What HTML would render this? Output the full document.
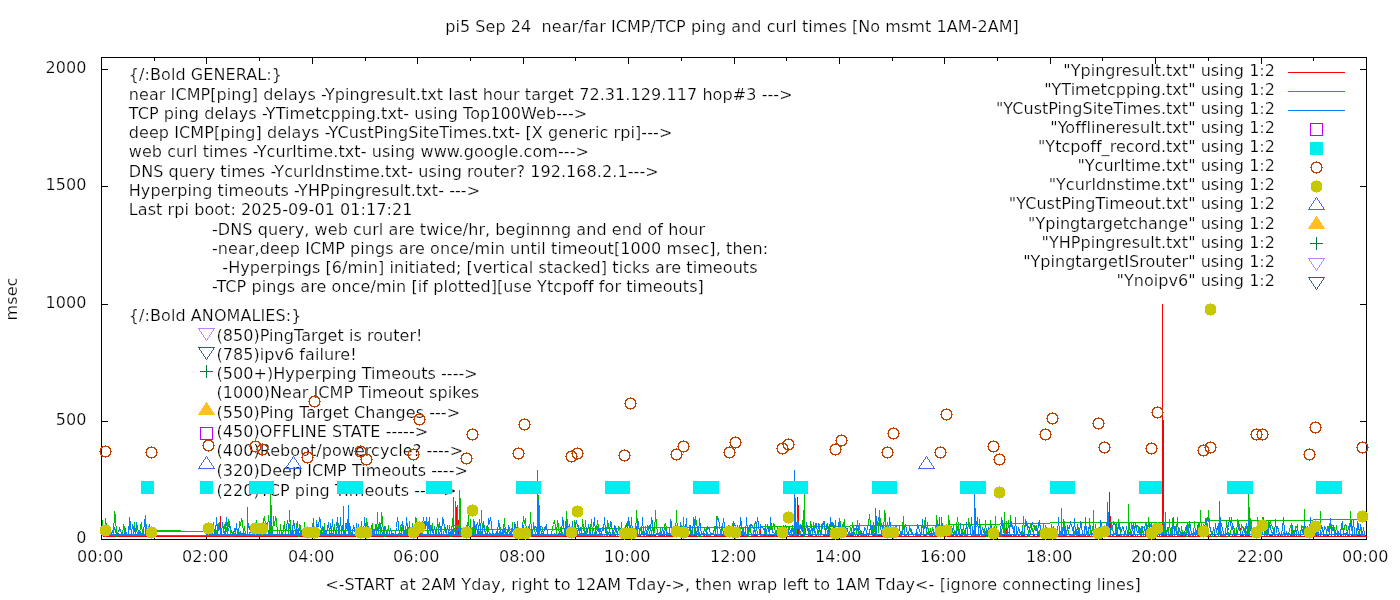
<!DOCTYPE html>
<html><head><meta charset="utf-8"><title>pi5 ping and curl times</title>
<style>html,body{margin:0;padding:0;background:#fff;overflow:hidden}svg{display:block}text{stroke:#fff;stroke-width:.24px}</style></head>
<body>
<svg width="1400" height="600" viewBox="0 0 1400 600" font-family="DejaVu Sans, Liberation Sans, sans-serif" font-size="16" letter-spacing="0.08" fill="#000">
<rect width="1400" height="600" fill="#fff"/>
<defs><g id="oc" shape-rendering="crispEdges"><path fill="#c04000" d="M-3.5,-5.5h7v1h-7zM-4.5,-4.5h2v1h-2zM2.5,-4.5h2v1h-2zM-5.5,-3.5h2v1h-2zM3.5,-3.5h2v1h-2zM-3.5,4.5h7v1h-7zM-4.5,3.5h2v1h-2zM2.5,3.5h2v1h-2zM-5.5,2.5h2v1h-2zM3.5,2.5h2v1h-2zM-6.5,-0.5h2v1h-2zM4.5,-0.5h2v1h-2zM-5.5,-2.5h1v1h-1zM4.5,-2.5h1v1h-1zM-5.5,-1.5h1v1h-1zM4.5,-1.5h1v1h-1zM-5.5,0.5h1v1h-1zM4.5,0.5h1v1h-1zM-5.5,1.5h1v1h-1zM4.5,1.5h1v1h-1zM-0.5,-6.5h1v1h-1zM-0.5,5.5h1v1h-1z"/></g><g id="fc" shape-rendering="crispEdges" fill="#c8c800"><path d="M-3.5,-5.5h7v1h1v1h1v7h-1v1h-1v1h-7v-1h-1v-1h-1v-7h1v-1h1z"/><rect x="-0.5" y="-6.5" width="1" height="13"/></g></defs>
<text x="128.75" y="80" text-anchor="start" xml:space="preserve" >{/:Bold GENERAL:}</text>
<text x="128.75" y="100" text-anchor="start" xml:space="preserve" >near ICMP[ping] delays -Ypingresult.txt last hour target 72.31.129.117 hop#3 ---&gt;</text>
<text x="128.75" y="119" text-anchor="start" xml:space="preserve" >TCP ping delays -YTimetcpping.txt- using Top100Web---&gt;</text>
<text x="128.75" y="138" text-anchor="start" xml:space="preserve" >deep ICMP[ping] delays -YCustPingSiteTimes.txt- [X generic rpi]---&gt;</text>
<text x="128.75" y="157" text-anchor="start" xml:space="preserve" >web curl times -Ycurltime.txt- using www.google.com---&gt;</text>
<text x="128.75" y="177" text-anchor="start" xml:space="preserve" >DNS query times -Ycurldnstime.txt- using router? 192.168.2.1---&gt;</text>
<text x="128.75" y="196" text-anchor="start" xml:space="preserve" >Hyperping timeouts -YHPpingresult.txt- ---&gt;</text>
<text x="128.75" y="215" text-anchor="start" xml:space="preserve" >Last rpi boot: 2025-09-01 01:17:21</text>
<text x="212" y="235" text-anchor="start" xml:space="preserve" >-DNS query, web curl are twice/hr, beginnng and end of hour</text>
<text x="212" y="254" text-anchor="start" xml:space="preserve" >-near,deep ICMP pings are once/min until timeout[1000 msec], then:</text>
<text x="212" y="273" text-anchor="start" xml:space="preserve" >  -Hyperpings [6/min] initiated; [vertical stacked] ticks are timeouts</text>
<text x="212" y="292" text-anchor="start" xml:space="preserve" >-TCP pings are once/min [if plotted][use Ytcpoff for timeouts]</text>
<text x="128.75" y="321" text-anchor="start" xml:space="preserve" >{/:Bold ANOMALIES:}</text>
<text x="216.5" y="341" text-anchor="start" xml:space="preserve" letter-spacing="0.05">(850)PingTarget is router!</text>
<text x="216.5" y="360" text-anchor="start" xml:space="preserve" letter-spacing="0.05">(785)ipv6 failure!</text>
<text x="216.5" y="379" text-anchor="start" xml:space="preserve" letter-spacing="0.05">(500+)Hyperping Timeouts ----&gt;</text>
<text x="216.5" y="398" text-anchor="start" xml:space="preserve" letter-spacing="0.05">(1000)Near ICMP Timeout spikes</text>
<text x="216.5" y="418" text-anchor="start" xml:space="preserve" letter-spacing="0.05">(550)Ping Target Changes ---&gt;</text>
<text x="216.5" y="437" text-anchor="start" xml:space="preserve" letter-spacing="0.05">(450)OFFLINE STATE -----&gt;</text>
<text x="216.5" y="456" text-anchor="start" xml:space="preserve" letter-spacing="0.05">(400)Reboot/powercycle? ----&gt;</text>
<text x="216.5" y="476" text-anchor="start" xml:space="preserve" letter-spacing="0.05">(320)Deep ICMP Timeouts ----&gt;</text>
<text x="216.5" y="496" text-anchor="start" xml:space="preserve" letter-spacing="0.05">(220)TCP ping Timeouts -----&gt;</text>
<path d="M206.5,340.5L214.5,328.5L198.5,328.5Z" fill="none" stroke="#c080ff" stroke-width="1" shape-rendering="crispEdges"/>
<path d="M206.5,359.5L214.5,347.5L198.5,347.5Z" fill="none" stroke="#306080" stroke-width="1" shape-rendering="crispEdges"/>
<path d="M200.0,371.5h13M206.5,365.0v13" stroke="#008040" stroke-width="1" fill="none" shape-rendering="crispEdges"/>
<path d="M206.5,402.5L214.5,414.5L198.5,414.5Z" fill="#ffc020" stroke="#ffc020" stroke-width="1" shape-rendering="crispEdges"/>
<rect x="200.5" y="427.5" width="12" height="12" fill="none" stroke="#c000ff" stroke-width="1" shape-rendering="crispEdges"/>
<path d="M206.5,456.5L214.5,468.5L198.5,468.5Z" fill="none" stroke="#4169e1" stroke-width="1" shape-rendering="crispEdges"/>
<rect x="200" y="481" width="13" height="13" fill="#00eeee" shape-rendering="crispEdges"/>
<g shape-rendering="crispEdges" stroke="#000" stroke-width="1" fill="none">
<rect x="101.5" y="57.5" width="1265" height="482"/>
<path d="M102,539.5h6M1366,539.5h-6"/>
<path d="M102,421.5h6M1366,421.5h-6"/>
<path d="M102,304.5h6M1366,304.5h-6"/>
<path d="M102,186.5h6M1366,186.5h-6"/>
<path d="M102,69.5h6M1366,69.5h-6"/>
<path d="M101.5,539v-6M101.5,58v6"/>
<path d="M154.5,539v-3M154.5,58v3"/>
<path d="M206.5,539v-6M206.5,58v6"/>
<path d="M259.5,539v-3M259.5,58v3"/>
<path d="M312.5,539v-6M312.5,58v6"/>
<path d="M365.5,539v-3M365.5,58v3"/>
<path d="M417.5,539v-6M417.5,58v6"/>
<path d="M470.5,539v-3M470.5,58v3"/>
<path d="M523.5,539v-6M523.5,58v6"/>
<path d="M575.5,539v-3M575.5,58v3"/>
<path d="M628.5,539v-6M628.5,58v6"/>
<path d="M681.5,539v-3M681.5,58v3"/>
<path d="M734.5,539v-6M734.5,58v6"/>
<path d="M786.5,539v-3M786.5,58v3"/>
<path d="M839.5,539v-6M839.5,58v6"/>
<path d="M892.5,539v-3M892.5,58v3"/>
<path d="M944.5,539v-6M944.5,58v6"/>
<path d="M997.5,539v-3M997.5,58v3"/>
<path d="M1050.5,539v-6M1050.5,58v6"/>
<path d="M1102.5,539v-3M1102.5,58v3"/>
<path d="M1155.5,539v-6M1155.5,58v6"/>
<path d="M1208.5,539v-3M1208.5,58v3"/>
<path d="M1261.5,539v-6M1261.5,58v6"/>
<path d="M1313.5,539v-3M1313.5,58v3"/>
<path d="M1366.5,539v-6M1366.5,58v6"/>
</g>
<text x="732" y="32" text-anchor="middle" xml:space="preserve" letter-spacing="0.06">pi5 Sep 24  near/far ICMP/TCP ping and curl times [No msmt 1AM-2AM]</text>
<text x="86.5" y="543" text-anchor="end" xml:space="preserve" >0</text>
<text x="86.5" y="425" text-anchor="end" xml:space="preserve" >500</text>
<text x="86.5" y="308" text-anchor="end" xml:space="preserve" >1000</text>
<text x="86.5" y="190" text-anchor="end" xml:space="preserve" >1500</text>
<text x="86.5" y="73" text-anchor="end" xml:space="preserve" >2000</text>
<text x="100.25" y="562" text-anchor="middle" xml:space="preserve" >00:00</text>
<text x="205.25" y="562" text-anchor="middle" xml:space="preserve" >02:00</text>
<text x="311.25" y="562" text-anchor="middle" xml:space="preserve" >04:00</text>
<text x="416.25" y="562" text-anchor="middle" xml:space="preserve" >06:00</text>
<text x="522.25" y="562" text-anchor="middle" xml:space="preserve" >08:00</text>
<text x="627.25" y="562" text-anchor="middle" xml:space="preserve" >10:00</text>
<text x="733.25" y="562" text-anchor="middle" xml:space="preserve" >12:00</text>
<text x="838.25" y="562" text-anchor="middle" xml:space="preserve" >14:00</text>
<text x="943.25" y="562" text-anchor="middle" xml:space="preserve" >16:00</text>
<text x="1049.25" y="562" text-anchor="middle" xml:space="preserve" >18:00</text>
<text x="1154.25" y="562" text-anchor="middle" xml:space="preserve" >20:00</text>
<text x="1260.25" y="562" text-anchor="middle" xml:space="preserve" >22:00</text>
<text x="1365.25" y="562" text-anchor="middle" xml:space="preserve" >00:00</text>
<text x="733" y="590" text-anchor="middle" xml:space="preserve" letter-spacing="0.085">&lt;-START at 2AM Yday, right to 12AM Tday-&gt;, then wrap left to 1AM Tday&lt;- [ignore connecting lines]</text>
<text transform="translate(17.3,299) rotate(-90)" text-anchor="middle">msec</text>
<g shape-rendering="crispEdges" fill="none" stroke-width="1">
<polyline points="102.5,536.5 103.5,536.5 104.5,536.5 105.5,536.5 106.5,536.5 107.5,536.5 108.5,536.5 109.5,536.5 110.5,536.5 111.5,536.5 112.5,536.5 113.5,536.5 114.5,536.5 115.5,536.5 116.5,536.5 117.5,536.5 118.5,536.5 119.5,536.5 120.5,536.5 121.5,536.5 122.5,536.5 123.5,536.5 124.5,536.5 125.5,536.5 126.5,536.5 127.5,536.5 128.5,536.5 129.5,536.5 130.5,536.5 131.5,536.5 132.5,536.5 133.5,536.5 134.5,536.5 135.5,536.5 136.5,536.5 137.5,536.5 138.5,536.5 139.5,536.5 140.5,536.5 141.5,536.5 142.5,536.5 143.5,536.5 144.5,536.5 145.5,536.5 146.5,536.5 147.5,536.5 148.5,536.5 149.5,536.5 150.5,536.5 151.5,536.5 152.5,536.5 153.5,536.5 154.5,536.5 155.5,536.5 156.5,536.5 157.5,536.5 158.5,536.5 159.5,536.5 160.5,536.5 161.5,536.5 162.5,536.5 163.5,536.5 164.5,536.5 165.5,536.5 166.5,536.5 167.5,536.5 168.5,536.5 169.5,536.5 170.5,536.5 171.5,536.5 172.5,536.5 173.5,536.5 174.5,536.5 175.5,536.5 176.5,536.5 177.5,536.5 178.5,536.5 179.5,536.5 180.5,536.5 181.5,536.5 182.5,536.5 183.5,536.5 184.5,536.5 185.5,536.5 186.5,536.5 187.5,536.5 188.5,536.5 189.5,536.5 190.5,536.5 191.5,536.5 192.5,536.5 193.5,536.5 194.5,536.5 195.5,536.5 196.5,536.5 197.5,536.5 198.5,536.5 199.5,536.5 200.5,536.5 201.5,536.5 202.5,536.5 203.5,536.5 204.5,536.5 205.5,536.5 206.5,536.5 207.5,536.5 208.5,536.5 209.5,536.5 210.5,536.5 211.5,536.5 212.5,536.5 213.5,536.5 214.5,536.5 215.5,536.5 216.5,536.5 217.5,536.5 218.5,536.5 219.5,536.5 220.5,536.5 221.5,536.5 222.5,536.5 223.5,536.5 224.5,536.5 225.5,536.5 226.5,536.5 227.5,536.5 228.5,536.5 229.5,536.5 230.5,536.5 231.5,536.5 232.5,536.5 233.5,536.5 234.5,536.5 235.5,536.5 236.5,536.5 237.5,536.5 238.5,536.5 239.5,536.5 240.5,536.5 241.5,536.5 242.5,536.5 243.5,536.5 244.5,536.5 245.5,536.5 246.5,536.5 247.5,536.5 248.5,536.5 249.5,536.5 250.5,536.5 251.5,536.5 252.5,536.5 253.5,536.5 254.5,536.5 255.5,536.5 256.5,536.5 257.5,536.5 258.5,536.5 259.5,536.5 260.5,536.5 261.5,536.5 262.5,536.5 263.5,536.5 264.5,536.5 265.5,536.5 266.5,536.5 267.5,536.5 268.5,536.5 269.5,536.5 270.5,536.5 271.5,536.5 272.5,536.5 273.5,536.5 274.5,536.5 275.5,536.5 276.5,536.5 277.5,536.5 278.5,536.5 279.5,536.5 280.5,536.5 281.5,536.5 282.5,536.5 283.5,536.5 284.5,536.5 285.5,536.5 286.5,536.5 287.5,536.5 288.5,536.5 289.5,536.5 290.5,536.5 291.5,536.5 292.5,536.5 293.5,536.5 294.5,536.5 295.5,536.5 296.5,536.5 297.5,536.5 298.5,536.5 299.5,536.5 300.5,536.5 301.5,536.5 302.5,536.5 303.5,536.5 304.5,536.5 305.5,536.5 306.5,536.5 307.5,536.5 308.5,536.5 309.5,536.5 310.5,536.5 311.5,536.5 312.5,536.5 313.5,536.5 314.5,536.5 315.5,536.5 316.5,536.5 317.5,536.5 318.5,536.5 319.5,536.5 320.5,536.5 321.5,536.5 322.5,536.5 323.5,536.5 324.5,536.5 325.5,536.5 326.5,536.5 327.5,536.5 328.5,536.5 329.5,536.5 330.5,536.5 331.5,536.5 332.5,536.5 333.5,536.5 334.5,536.5 335.5,536.5 336.5,536.5 337.5,536.5 338.5,536.5 339.5,536.5 340.5,536.5 341.5,536.5 342.5,536.5 343.5,536.5 344.5,536.5 345.5,536.5 346.5,536.5 347.5,536.5 348.5,536.5 349.5,536.5 350.5,536.5 351.5,536.5 352.5,536.5 353.5,536.5 354.5,536.5 355.5,536.5 356.5,536.5 357.5,536.5 358.5,536.5 359.5,536.5 360.5,536.5 361.5,536.5 362.5,536.5 363.5,536.5 364.5,536.5 365.5,536.5 366.5,536.5 367.5,536.5 368.5,536.5 369.5,536.5 370.5,536.5 371.5,536.5 372.5,536.5 373.5,536.5 374.5,536.5 375.5,536.5 376.5,536.5 377.5,536.5 378.5,536.5 379.5,536.5 380.5,536.5 381.5,536.5 382.5,536.5 383.5,536.5 384.5,536.5 385.5,536.5 386.5,536.5 387.5,536.5 388.5,536.5 389.5,536.5 390.5,536.5 391.5,536.5 392.5,536.5 393.5,536.5 394.5,536.5 395.5,536.5 396.5,536.5 397.5,536.5 398.5,536.5 399.5,536.5 400.5,536.5 401.5,536.5 402.5,536.5 403.5,536.5 404.5,536.5 405.5,536.5 406.5,536.5 407.5,536.5 408.5,536.5 409.5,536.5 410.5,536.5 411.5,536.5 412.5,536.5 413.5,536.5 414.5,536.5 415.5,536.5 416.5,536.5 417.5,536.5 418.5,536.5 419.5,536.5 420.5,536.5 421.5,536.5 422.5,536.5 423.5,536.5 424.5,536.5 425.5,536.5 426.5,536.5 427.5,536.5 428.5,536.5 429.5,536.5 430.5,536.5 431.5,536.5 432.5,536.5 433.5,536.5 434.5,536.5 435.5,536.5 436.5,536.5 437.5,536.5 438.5,536.5 439.5,536.5 440.5,536.5 441.5,536.5 442.5,536.5 443.5,536.5 444.5,536.5 445.5,536.5 446.5,536.5 447.5,536.5 448.5,536.5 449.5,536.5 450.5,536.5 451.5,536.5 452.5,536.5 453.5,536.5 454.5,536.5 455.5,536.5 456.5,536.5 457.5,536.5 458.5,536.5 459.5,536.5 460.5,536.5 461.5,536.5 462.5,536.5 463.5,536.5 464.5,536.5 465.5,536.5 466.5,536.5 467.5,536.5 468.5,536.5 469.5,536.5 470.5,536.5 471.5,536.5 472.5,536.5 473.5,536.5 474.5,536.5 475.5,536.5 476.5,536.5 477.5,536.5 478.5,536.5 479.5,536.5 480.5,536.5 481.5,536.5 482.5,536.5 483.5,536.5 484.5,536.5 485.5,536.5 486.5,536.5 487.5,536.5 488.5,536.5 489.5,536.5 490.5,536.5 491.5,536.5 492.5,536.5 493.5,536.5 494.5,536.5 495.5,536.5 496.5,536.5 497.5,536.5 498.5,536.5 499.5,536.5 500.5,536.5 501.5,536.5 502.5,536.5 503.5,536.5 504.5,536.5 505.5,536.5 506.5,536.5 507.5,536.5 508.5,536.5 509.5,536.5 510.5,536.5 511.5,536.5 512.5,536.5 513.5,536.5 514.5,536.5 515.5,536.5 516.5,536.5 517.5,536.5 518.5,536.5 519.5,536.5 520.5,536.5 521.5,536.5 522.5,536.5 523.5,536.5 524.5,536.5 525.5,536.5 526.5,536.5 527.5,536.5 528.5,536.5 529.5,536.5 530.5,536.5 531.5,536.5 532.5,536.5 533.5,536.5 534.5,536.5 535.5,536.5 536.5,536.5 537.5,536.5 538.5,536.5 539.5,536.5 540.5,536.5 541.5,536.5 542.5,536.5 543.5,536.5 544.5,536.5 545.5,536.5 546.5,536.5 547.5,536.5 548.5,536.5 549.5,536.5 550.5,536.5 551.5,536.5 552.5,536.5 553.5,536.5 554.5,536.5 555.5,536.5 556.5,536.5 557.5,536.5 558.5,536.5 559.5,536.5 560.5,536.5 561.5,536.5 562.5,536.5 563.5,536.5 564.5,536.5 565.5,536.5 566.5,536.5 567.5,536.5 568.5,536.5 569.5,536.5 570.5,536.5 571.5,536.5 572.5,536.5 573.5,536.5 574.5,536.5 575.5,536.5 576.5,536.5 577.5,536.5 578.5,536.5 579.5,536.5 580.5,536.5 581.5,536.5 582.5,536.5 583.5,536.5 584.5,536.5 585.5,536.5 586.5,536.5 587.5,536.5 588.5,536.5 589.5,536.5 590.5,536.5 591.5,536.5 592.5,536.5 593.5,536.5 594.5,536.5 595.5,536.5 596.5,536.5 597.5,536.5 598.5,536.5 599.5,536.5 600.5,536.5 601.5,536.5 602.5,536.5 603.5,536.5 604.5,536.5 605.5,536.5 606.5,536.5 607.5,536.5 608.5,536.5 609.5,536.5 610.5,536.5 611.5,536.5 612.5,536.5 613.5,536.5 614.5,536.5 615.5,536.5 616.5,536.5 617.5,536.5 618.5,536.5 619.5,536.5 620.5,536.5 621.5,536.5 622.5,536.5 623.5,536.5 624.5,536.5 625.5,536.5 626.5,536.5 627.5,536.5 628.5,536.5 629.5,536.5 630.5,536.5 631.5,536.5 632.5,536.5 633.5,536.5 634.5,536.5 635.5,536.5 636.5,536.5 637.5,536.5 638.5,536.5 639.5,536.5 640.5,536.5 641.5,536.5 642.5,536.5 643.5,536.5 644.5,536.5 645.5,536.5 646.5,536.5 647.5,536.5 648.5,536.5 649.5,536.5 650.5,536.5 651.5,536.5 652.5,536.5 653.5,536.5 654.5,536.5 655.5,536.5 656.5,536.5 657.5,536.5 658.5,536.5 659.5,536.5 660.5,536.5 661.5,536.5 662.5,536.5 663.5,536.5 664.5,536.5 665.5,536.5 666.5,536.5 667.5,536.5 668.5,536.5 669.5,536.5 670.5,536.5 671.5,536.5 672.5,536.5 673.5,536.5 674.5,536.5 675.5,536.5 676.5,536.5 677.5,536.5 678.5,536.5 679.5,536.5 680.5,536.5 681.5,536.5 682.5,536.5 683.5,536.5 684.5,536.5 685.5,536.5 686.5,536.5 687.5,536.5 688.5,536.5 689.5,536.5 690.5,536.5 691.5,536.5 692.5,536.5 693.5,536.5 694.5,536.5 695.5,536.5 696.5,536.5 697.5,536.5 698.5,536.5 699.5,536.5 700.5,536.5 701.5,536.5 702.5,536.5 703.5,536.5 704.5,536.5 705.5,536.5 706.5,536.5 707.5,536.5 708.5,536.5 709.5,536.5 710.5,536.5 711.5,536.5 712.5,536.5 713.5,536.5 714.5,536.5 715.5,536.5 716.5,536.5 717.5,536.5 718.5,536.5 719.5,536.5 720.5,536.5 721.5,536.5 722.5,536.5 723.5,536.5 724.5,536.5 725.5,536.5 726.5,536.5 727.5,536.5 728.5,536.5 729.5,536.5 730.5,536.5 731.5,536.5 732.5,536.5 733.5,536.5 734.5,536.5 735.5,536.5 736.5,536.5 737.5,536.5 738.5,536.5 739.5,536.5 740.5,536.5 741.5,536.5 742.5,536.5 743.5,536.5 744.5,536.5 745.5,536.5 746.5,536.5 747.5,536.5 748.5,536.5 749.5,536.5 750.5,536.5 751.5,536.5 752.5,536.5 753.5,536.5 754.5,536.5 755.5,536.5 756.5,536.5 757.5,536.5 758.5,536.5 759.5,536.5 760.5,536.5 761.5,536.5 762.5,536.5 763.5,536.5 764.5,536.5 765.5,536.5 766.5,536.5 767.5,536.5 768.5,536.5 769.5,536.5 770.5,536.5 771.5,536.5 772.5,536.5 773.5,536.5 774.5,536.5 775.5,536.5 776.5,536.5 777.5,536.5 778.5,536.5 779.5,536.5 780.5,536.5 781.5,536.5 782.5,536.5 783.5,536.5 784.5,536.5 785.5,536.5 786.5,536.5 787.5,536.5 788.5,536.5 789.5,536.5 790.5,536.5 791.5,536.5 792.5,536.5 793.5,536.5 794.5,536.5 795.5,536.5 796.5,536.5 797.5,536.5 798.5,536.5 799.5,536.5 800.5,536.5 801.5,536.5 802.5,536.5 803.5,536.5 804.5,536.5 805.5,536.5 806.5,536.5 807.5,536.5 808.5,536.5 809.5,536.5 810.5,536.5 811.5,536.5 812.5,536.5 813.5,536.5 814.5,536.5 815.5,536.5 816.5,536.5 817.5,536.5 818.5,536.5 819.5,536.5 820.5,536.5 821.5,536.5 822.5,536.5 823.5,536.5 824.5,536.5 825.5,536.5 826.5,536.5 827.5,536.5 828.5,536.5 829.5,536.5 830.5,536.5 831.5,536.5 832.5,536.5 833.5,536.5 834.5,536.5 835.5,536.5 836.5,536.5 837.5,536.5 838.5,536.5 839.5,536.5 840.5,536.5 841.5,536.5 842.5,536.5 843.5,536.5 844.5,536.5 845.5,536.5 846.5,536.5 847.5,536.5 848.5,536.5 849.5,536.5 850.5,536.5 851.5,536.5 852.5,536.5 853.5,536.5 854.5,536.5 855.5,536.5 856.5,536.5 857.5,536.5 858.5,536.5 859.5,536.5 860.5,536.5 861.5,536.5 862.5,536.5 863.5,536.5 864.5,536.5 865.5,536.5 866.5,536.5 867.5,536.5 868.5,536.5 869.5,536.5 870.5,536.5 871.5,536.5 872.5,536.5 873.5,536.5 874.5,536.5 875.5,536.5 876.5,536.5 877.5,536.5 878.5,536.5 879.5,536.5 880.5,536.5 881.5,536.5 882.5,536.5 883.5,536.5 884.5,536.5 885.5,536.5 886.5,536.5 887.5,536.5 888.5,536.5 889.5,536.5 890.5,536.5 891.5,536.5 892.5,536.5 893.5,536.5 894.5,536.5 895.5,536.5 896.5,536.5 897.5,536.5 898.5,536.5 899.5,536.5 900.5,536.5 901.5,536.5 902.5,536.5 903.5,536.5 904.5,536.5 905.5,536.5 906.5,536.5 907.5,536.5 908.5,536.5 909.5,536.5 910.5,536.5 911.5,536.5 912.5,536.5 913.5,536.5 914.5,536.5 915.5,536.5 916.5,536.5 917.5,536.5 918.5,536.5 919.5,536.5 920.5,536.5 921.5,536.5 922.5,536.5 923.5,536.5 924.5,536.5 925.5,536.5 926.5,536.5 927.5,536.5 928.5,536.5 929.5,536.5 930.5,536.5 931.5,536.5 932.5,536.5 933.5,536.5 934.5,536.5 935.5,536.5 936.5,536.5 937.5,536.5 938.5,536.5 939.5,536.5 940.5,536.5 941.5,536.5 942.5,536.5 943.5,536.5 944.5,536.5 945.5,536.5 946.5,536.5 947.5,536.5 948.5,536.5 949.5,536.5 950.5,536.5 951.5,536.5 952.5,536.5 953.5,536.5 954.5,536.5 955.5,536.5 956.5,536.5 957.5,536.5 958.5,536.5 959.5,536.5 960.5,536.5 961.5,536.5 962.5,536.5 963.5,536.5 964.5,536.5 965.5,536.5 966.5,536.5 967.5,536.5 968.5,536.5 969.5,536.5 970.5,536.5 971.5,536.5 972.5,536.5 973.5,536.5 974.5,536.5 975.5,536.5 976.5,536.5 977.5,536.5 978.5,536.5 979.5,536.5 980.5,536.5 981.5,536.5 982.5,536.5 983.5,536.5 984.5,536.5 985.5,536.5 986.5,536.5 987.5,536.5 988.5,536.5 989.5,536.5 990.5,536.5 991.5,536.5 992.5,536.5 993.5,536.5 994.5,536.5 995.5,536.5 996.5,536.5 997.5,536.5 998.5,536.5 999.5,536.5 1000.5,536.5 1001.5,536.5 1002.5,536.5 1003.5,536.5 1004.5,536.5 1005.5,536.5 1006.5,536.5 1007.5,536.5 1008.5,536.5 1009.5,536.5 1010.5,536.5 1011.5,536.5 1012.5,536.5 1013.5,536.5 1014.5,536.5 1015.5,536.5 1016.5,536.5 1017.5,536.5 1018.5,536.5 1019.5,536.5 1020.5,536.5 1021.5,536.5 1022.5,536.5 1023.5,536.5 1024.5,536.5 1025.5,536.5 1026.5,536.5 1027.5,536.5 1028.5,536.5 1029.5,536.5 1030.5,536.5 1031.5,536.5 1032.5,536.5 1033.5,536.5 1034.5,536.5 1035.5,536.5 1036.5,536.5 1037.5,536.5 1038.5,536.5 1039.5,536.5 1040.5,536.5 1041.5,536.5 1042.5,536.5 1043.5,536.5 1044.5,536.5 1045.5,536.5 1046.5,536.5 1047.5,536.5 1048.5,536.5 1049.5,536.5 1050.5,536.5 1051.5,536.5 1052.5,536.5 1053.5,536.5 1054.5,536.5 1055.5,536.5 1056.5,536.5 1057.5,536.5 1058.5,536.5 1059.5,536.5 1060.5,536.5 1061.5,536.5 1062.5,536.5 1063.5,536.5 1064.5,536.5 1065.5,536.5 1066.5,536.5 1067.5,536.5 1068.5,536.5 1069.5,536.5 1070.5,536.5 1071.5,536.5 1072.5,536.5 1073.5,536.5 1074.5,536.5 1075.5,536.5 1076.5,536.5 1077.5,536.5 1078.5,536.5 1079.5,536.5 1080.5,536.5 1081.5,536.5 1082.5,536.5 1083.5,536.5 1084.5,536.5 1085.5,536.5 1086.5,536.5 1087.5,536.5 1088.5,536.5 1089.5,536.5 1090.5,536.5 1091.5,536.5 1092.5,536.5 1093.5,536.5 1094.5,536.5 1095.5,536.5 1096.5,536.5 1097.5,536.5 1098.5,536.5 1099.5,536.5 1100.5,536.5 1101.5,536.5 1102.5,536.5 1103.5,536.5 1104.5,536.5 1105.5,536.5 1106.5,536.5 1107.5,536.5 1108.5,536.5 1109.5,536.5 1110.5,536.5 1111.5,536.5 1112.5,536.5 1113.5,536.5 1114.5,536.5 1115.5,536.5 1116.5,536.5 1117.5,536.5 1118.5,536.5 1119.5,536.5 1120.5,536.5 1121.5,536.5 1122.5,536.5 1123.5,536.5 1124.5,536.5 1125.5,536.5 1126.5,536.5 1127.5,536.5 1128.5,536.5 1129.5,536.5 1130.5,536.5 1131.5,536.5 1132.5,536.5 1133.5,536.5 1134.5,536.5 1135.5,536.5 1136.5,536.5 1137.5,536.5 1138.5,536.5 1139.5,536.5 1140.5,536.5 1141.5,536.5 1142.5,536.5 1143.5,536.5 1144.5,536.5 1145.5,536.5 1146.5,536.5 1147.5,536.5 1148.5,536.5 1149.5,536.5 1150.5,536.5 1151.5,536.5 1152.5,536.5 1153.5,536.5 1154.5,536.5 1155.5,536.5 1156.5,536.5 1157.5,536.5 1158.5,536.5 1159.5,536.5 1160.5,536.5 1161.5,536.5 1162.5,536.5 1163.5,536.5 1164.5,536.5 1165.5,536.5 1166.5,536.5 1167.5,536.5 1168.5,536.5 1169.5,536.5 1170.5,536.5 1171.5,536.5 1172.5,536.5 1173.5,536.5 1174.5,536.5 1175.5,536.5 1176.5,536.5 1177.5,536.5 1178.5,536.5 1179.5,536.5 1180.5,536.5 1181.5,536.5 1182.5,536.5 1183.5,536.5 1184.5,536.5 1185.5,536.5 1186.5,536.5 1187.5,536.5 1188.5,536.5 1189.5,536.5 1190.5,536.5 1191.5,536.5 1192.5,536.5 1193.5,536.5 1194.5,536.5 1195.5,536.5 1196.5,536.5 1197.5,536.5 1198.5,536.5 1199.5,536.5 1200.5,536.5 1201.5,536.5 1202.5,536.5 1203.5,536.5 1204.5,536.5 1205.5,536.5 1206.5,536.5 1207.5,536.5 1208.5,536.5 1209.5,536.5 1210.5,536.5 1211.5,536.5 1212.5,536.5 1213.5,536.5 1214.5,536.5 1215.5,536.5 1216.5,536.5 1217.5,536.5 1218.5,536.5 1219.5,536.5 1220.5,536.5 1221.5,536.5 1222.5,536.5 1223.5,536.5 1224.5,536.5 1225.5,536.5 1226.5,536.5 1227.5,536.5 1228.5,536.5 1229.5,536.5 1230.5,536.5 1231.5,536.5 1232.5,536.5 1233.5,536.5 1234.5,536.5 1235.5,536.5 1236.5,536.5 1237.5,536.5 1238.5,536.5 1239.5,536.5 1240.5,536.5 1241.5,536.5 1242.5,536.5 1243.5,536.5 1244.5,536.5 1245.5,536.5 1246.5,536.5 1247.5,536.5 1248.5,536.5 1249.5,536.5 1250.5,536.5 1251.5,536.5 1252.5,536.5 1253.5,536.5 1254.5,536.5 1255.5,536.5 1256.5,536.5 1257.5,536.5 1258.5,536.5 1259.5,536.5 1260.5,536.5 1261.5,536.5 1262.5,536.5 1263.5,536.5 1264.5,536.5 1265.5,536.5 1266.5,536.5 1267.5,536.5 1268.5,536.5 1269.5,536.5 1270.5,536.5 1271.5,536.5 1272.5,536.5 1273.5,536.5 1274.5,536.5 1275.5,536.5 1276.5,536.5 1277.5,536.5 1278.5,536.5 1279.5,536.5 1280.5,536.5 1281.5,536.5 1282.5,536.5 1283.5,536.5 1284.5,536.5 1285.5,536.5 1286.5,536.5 1287.5,536.5 1288.5,536.5 1289.5,536.5 1290.5,536.5 1291.5,536.5 1292.5,536.5 1293.5,536.5 1294.5,536.5 1295.5,536.5 1296.5,536.5 1297.5,536.5 1298.5,536.5 1299.5,536.5 1300.5,536.5 1301.5,536.5 1302.5,536.5 1303.5,536.5 1304.5,536.5 1305.5,536.5 1306.5,536.5 1307.5,536.5 1308.5,536.5 1309.5,536.5 1310.5,536.5 1311.5,536.5 1312.5,536.5 1313.5,536.5 1314.5,536.5 1315.5,536.5 1316.5,536.5 1317.5,536.5 1318.5,536.5 1319.5,536.5 1320.5,536.5 1321.5,536.5 1322.5,536.5 1323.5,536.5 1324.5,536.5 1325.5,536.5 1326.5,536.5 1327.5,536.5 1328.5,536.5 1329.5,536.5 1330.5,536.5 1331.5,536.5 1332.5,536.5 1333.5,536.5 1334.5,536.5 1335.5,536.5 1336.5,536.5 1337.5,536.5 1338.5,536.5 1339.5,536.5 1340.5,536.5 1341.5,536.5 1342.5,536.5 1343.5,536.5 1344.5,536.5 1345.5,536.5 1346.5,536.5 1347.5,536.5 1348.5,536.5 1349.5,536.5 1350.5,536.5 1351.5,536.5 1352.5,536.5 1353.5,536.5 1354.5,536.5 1355.5,536.5 1356.5,536.5 1357.5,536.5 1358.5,536.5 1359.5,536.5 1360.5,536.5 1361.5,536.5 1362.5,536.5 1363.5,536.5 1364.5,536.5 1365.5,536.5 1366.5,536.5" stroke="#ff0000" stroke-width="1"/>
<polyline points="211.5,536.5 212.5,536.5 213.5,536.5 214.5,536.5 215.5,536.5 216.5,536.5 217.5,535.5 218.5,535.5 219.5,536.5 220.5,536.5 221.5,536.5 222.5,535.5 223.5,535.5 224.5,535.5 225.5,536.5 226.5,536.5 227.5,535.5 228.5,535.5 229.5,535.5 230.5,536.5 231.5,536.5 232.5,535.5 233.5,536.5 234.5,535.5 235.5,536.5 236.5,535.5 237.5,535.5 238.5,536.5 239.5,535.5 240.5,535.5 241.5,536.5 242.5,536.5 243.5,535.5 244.5,536.5 245.5,536.5 246.5,536.5 247.5,535.5 248.5,536.5 249.5,536.5 250.5,536.5 251.5,536.5 252.5,535.5 253.5,535.5 254.5,535.5 255.5,535.5 256.5,535.5 257.5,535.5 258.5,536.5 259.5,535.5 260.5,536.5 261.5,535.5 262.5,535.5 263.5,536.5 264.5,535.5 265.5,535.5 266.5,535.5 267.5,536.5 268.5,535.5 269.5,536.5 270.5,535.5 271.5,536.5 272.5,536.5 273.5,535.5 274.5,536.5 275.5,535.5 276.5,536.5 277.5,535.5 278.5,535.5 279.5,535.5 280.5,536.5 281.5,535.5 282.5,536.5 283.5,536.5 284.5,536.5 285.5,535.5 286.5,535.5 287.5,536.5 288.5,536.5 289.5,535.5 290.5,536.5 291.5,536.5 292.5,536.5 293.5,535.5 294.5,536.5 295.5,535.5 296.5,535.5 297.5,536.5 298.5,536.5 299.5,535.5 300.5,536.5 301.5,536.5 302.5,535.5 303.5,535.5 304.5,535.5 305.5,535.5 306.5,535.5 307.5,536.5 308.5,536.5 309.5,535.5 310.5,535.5 311.5,536.5 312.5,536.5 313.5,535.5 314.5,535.5 315.5,536.5 316.5,536.5 317.5,535.5 318.5,535.5 319.5,535.5 320.5,536.5 321.5,535.5 322.5,535.5 323.5,536.5 324.5,535.5 325.5,536.5 326.5,536.5 327.5,536.5 328.5,536.5 329.5,535.5 330.5,535.5 331.5,535.5 332.5,536.5 333.5,535.5 334.5,535.5 335.5,536.5 336.5,536.5 337.5,536.5 338.5,535.5 339.5,535.5 340.5,536.5 341.5,535.5 342.5,535.5 343.5,535.5 344.5,535.5 345.5,535.5 346.5,536.5 347.5,536.5 348.5,536.5 349.5,535.5 350.5,535.5 351.5,535.5 352.5,535.5 353.5,536.5 354.5,536.5 355.5,535.5 356.5,536.5 357.5,536.5 358.5,536.5 359.5,536.5 360.5,536.5 361.5,535.5 362.5,536.5 363.5,535.5 364.5,535.5 365.5,536.5 366.5,536.5 367.5,535.5 368.5,536.5 369.5,536.5 370.5,536.5 371.5,535.5 372.5,536.5 373.5,535.5 374.5,536.5 375.5,535.5 376.5,536.5 377.5,536.5 378.5,536.5 379.5,535.5 380.5,536.5 381.5,536.5 382.5,536.5 383.5,535.5 384.5,536.5 385.5,536.5 386.5,536.5 387.5,536.5 388.5,536.5 389.5,536.5 390.5,536.5 391.5,535.5 392.5,536.5 393.5,536.5 394.5,535.5 395.5,536.5 396.5,536.5 397.5,536.5 398.5,535.5 399.5,536.5 400.5,536.5 401.5,536.5 402.5,535.5 403.5,536.5 404.5,536.5 405.5,536.5 406.5,536.5 407.5,535.5 408.5,535.5 409.5,535.5 410.5,536.5 411.5,535.5 412.5,536.5 413.5,536.5 414.5,535.5 415.5,535.5 416.5,535.5 417.5,535.5 418.5,535.5 419.5,535.5 420.5,535.5 421.5,535.5 422.5,535.5 423.5,535.5 424.5,535.5 425.5,536.5 426.5,536.5 427.5,535.5 428.5,536.5 429.5,535.5 430.5,535.5 431.5,535.5 432.5,535.5 433.5,535.5 434.5,536.5 435.5,535.5 436.5,535.5 437.5,536.5 438.5,535.5 439.5,536.5 440.5,535.5 441.5,536.5 442.5,536.5 443.5,536.5 444.5,535.5 445.5,536.5 446.5,536.5 447.5,535.5 448.5,535.5 449.5,536.5 450.5,536.5 451.5,536.5 452.5,536.5 453.5,536.5 454.5,535.5 455.5,536.5 456.5,535.5 457.5,535.5 458.5,536.5 459.5,536.5 460.5,535.5 461.5,536.5 462.5,536.5 463.5,535.5 464.5,535.5 465.5,535.5 466.5,535.5 467.5,536.5 468.5,535.5 469.5,536.5 470.5,536.5 471.5,536.5 472.5,535.5 473.5,536.5 474.5,535.5 475.5,535.5 476.5,535.5 477.5,536.5 478.5,535.5 479.5,535.5 480.5,535.5 481.5,535.5 482.5,536.5 483.5,535.5 484.5,535.5 485.5,536.5 486.5,536.5 487.5,535.5 488.5,536.5 489.5,535.5 490.5,536.5 491.5,536.5 492.5,535.5 493.5,535.5 494.5,535.5 495.5,536.5 496.5,535.5 497.5,536.5 498.5,535.5 499.5,536.5 500.5,536.5 501.5,536.5 502.5,535.5 503.5,536.5 504.5,535.5 505.5,536.5 506.5,535.5 507.5,535.5 508.5,536.5 509.5,535.5 510.5,535.5 511.5,536.5 512.5,536.5 513.5,535.5 514.5,535.5 515.5,535.5 516.5,536.5 517.5,536.5 518.5,536.5 519.5,535.5 520.5,536.5 521.5,535.5 522.5,536.5 523.5,536.5 524.5,536.5 525.5,535.5 526.5,536.5 527.5,535.5 528.5,535.5 529.5,536.5 530.5,535.5 531.5,535.5 532.5,536.5 533.5,535.5 534.5,536.5 535.5,536.5 536.5,535.5 537.5,535.5 538.5,536.5 539.5,536.5 540.5,535.5 541.5,535.5 542.5,536.5 543.5,535.5 544.5,535.5 545.5,535.5 546.5,536.5 547.5,536.5 548.5,535.5 549.5,535.5 550.5,536.5 551.5,536.5 552.5,536.5 553.5,535.5 554.5,536.5 555.5,536.5 556.5,536.5 557.5,536.5 558.5,535.5 559.5,536.5 560.5,535.5 561.5,536.5 562.5,536.5 563.5,536.5 564.5,535.5 565.5,535.5 566.5,536.5 567.5,535.5 568.5,536.5 569.5,535.5 570.5,535.5 571.5,536.5 572.5,535.5 573.5,535.5 574.5,535.5 575.5,535.5 576.5,535.5 577.5,536.5 578.5,536.5 579.5,536.5 580.5,535.5 581.5,535.5 582.5,535.5 583.5,536.5 584.5,535.5 585.5,536.5 586.5,535.5 587.5,535.5 588.5,536.5 589.5,535.5 590.5,536.5 591.5,536.5 592.5,536.5 593.5,536.5 594.5,536.5 595.5,535.5 596.5,536.5 597.5,535.5 598.5,536.5 599.5,536.5 600.5,535.5 601.5,535.5 602.5,535.5 603.5,536.5 604.5,535.5 605.5,536.5 606.5,536.5 607.5,535.5 608.5,536.5 609.5,535.5 610.5,535.5 611.5,536.5 612.5,535.5 613.5,536.5 614.5,535.5 615.5,535.5 616.5,536.5 617.5,535.5 618.5,536.5 619.5,535.5 620.5,535.5 621.5,536.5 622.5,536.5 623.5,535.5 624.5,535.5 625.5,536.5 626.5,536.5 627.5,536.5 628.5,535.5 629.5,536.5 630.5,535.5 631.5,535.5 632.5,535.5 633.5,536.5 634.5,535.5 635.5,535.5 636.5,535.5 637.5,536.5 638.5,536.5 639.5,536.5 640.5,535.5 641.5,536.5 642.5,536.5 643.5,536.5 644.5,536.5 645.5,536.5 646.5,535.5 647.5,535.5 648.5,535.5 649.5,535.5 650.5,535.5 651.5,536.5 652.5,535.5 653.5,536.5 654.5,535.5 655.5,535.5 656.5,536.5 657.5,536.5 658.5,535.5 659.5,535.5 660.5,535.5 661.5,535.5 662.5,535.5 663.5,535.5 664.5,535.5 665.5,536.5 666.5,535.5 667.5,535.5 668.5,535.5 669.5,535.5 670.5,535.5 671.5,535.5 672.5,535.5 673.5,535.5 674.5,536.5 675.5,535.5 676.5,536.5 677.5,536.5 678.5,536.5 679.5,535.5 680.5,536.5 681.5,535.5 682.5,536.5 683.5,535.5 684.5,536.5 685.5,536.5 686.5,535.5 687.5,535.5 688.5,535.5 689.5,535.5 690.5,535.5 691.5,535.5 692.5,536.5 693.5,535.5 694.5,535.5 695.5,535.5 696.5,535.5 697.5,536.5 698.5,536.5 699.5,535.5 700.5,535.5 701.5,536.5 702.5,536.5 703.5,536.5 704.5,535.5 705.5,536.5 706.5,535.5 707.5,535.5 708.5,536.5 709.5,535.5 710.5,535.5 711.5,536.5 712.5,536.5 713.5,536.5 714.5,535.5 715.5,535.5 716.5,535.5 717.5,536.5 718.5,535.5 719.5,536.5 720.5,535.5 721.5,535.5 722.5,535.5 723.5,535.5 724.5,535.5 725.5,535.5 726.5,535.5 727.5,535.5 728.5,535.5 729.5,535.5 730.5,536.5 731.5,535.5 732.5,536.5 733.5,535.5 734.5,536.5 735.5,535.5 736.5,535.5 737.5,535.5 738.5,536.5 739.5,536.5 740.5,536.5 741.5,536.5 742.5,535.5 743.5,535.5 744.5,536.5 745.5,535.5 746.5,536.5 747.5,535.5 748.5,536.5 749.5,536.5 750.5,536.5 751.5,535.5 752.5,535.5 753.5,536.5 754.5,535.5 755.5,535.5 756.5,535.5 757.5,535.5 758.5,536.5 759.5,536.5 760.5,535.5 761.5,535.5 762.5,535.5 763.5,535.5 764.5,535.5 765.5,535.5 766.5,536.5 767.5,535.5 768.5,535.5 769.5,536.5 770.5,535.5 771.5,535.5 772.5,535.5 773.5,535.5 774.5,535.5 775.5,535.5 776.5,535.5 777.5,536.5 778.5,536.5 779.5,536.5 780.5,536.5 781.5,536.5 782.5,536.5 783.5,535.5 784.5,536.5 785.5,536.5 786.5,536.5 787.5,536.5 788.5,536.5 789.5,535.5 790.5,536.5 791.5,535.5 792.5,535.5 793.5,535.5 794.5,535.5 795.5,535.5 796.5,536.5 797.5,535.5 798.5,535.5 799.5,536.5 800.5,536.5 801.5,535.5 802.5,535.5 803.5,535.5 804.5,535.5 805.5,536.5 806.5,536.5 807.5,536.5 808.5,535.5 809.5,535.5 810.5,535.5 811.5,535.5 812.5,535.5 813.5,536.5 814.5,536.5 815.5,536.5 816.5,535.5 817.5,536.5 818.5,535.5 819.5,536.5 820.5,535.5 821.5,536.5 822.5,536.5 823.5,535.5 824.5,535.5 825.5,536.5 826.5,535.5 827.5,535.5 828.5,535.5 829.5,536.5 830.5,536.5 831.5,536.5 832.5,536.5 833.5,536.5 834.5,535.5 835.5,536.5 836.5,535.5 837.5,535.5 838.5,536.5 839.5,535.5 840.5,536.5 841.5,535.5 842.5,536.5 843.5,535.5 844.5,535.5 845.5,535.5 846.5,535.5 847.5,536.5 848.5,535.5 849.5,536.5 850.5,535.5 851.5,535.5 852.5,535.5 853.5,536.5 854.5,536.5 855.5,536.5 856.5,536.5 857.5,535.5 858.5,535.5 859.5,536.5 860.5,535.5 861.5,535.5 862.5,535.5 863.5,535.5 864.5,536.5 865.5,536.5 866.5,535.5 867.5,536.5 868.5,535.5 869.5,536.5 870.5,536.5 871.5,536.5 872.5,536.5 873.5,535.5 874.5,535.5 875.5,536.5 876.5,536.5 877.5,535.5 878.5,535.5 879.5,535.5 880.5,535.5 881.5,535.5 882.5,535.5 883.5,535.5 884.5,536.5 885.5,535.5 886.5,536.5 887.5,536.5 888.5,536.5 889.5,536.5 890.5,536.5 891.5,536.5 892.5,536.5 893.5,535.5 894.5,536.5 895.5,536.5 896.5,536.5 897.5,535.5 898.5,535.5 899.5,535.5 900.5,535.5 901.5,536.5 902.5,536.5 903.5,536.5 904.5,535.5 905.5,536.5 906.5,535.5 907.5,536.5 908.5,535.5 909.5,536.5 910.5,536.5 911.5,536.5 912.5,536.5 913.5,536.5 914.5,536.5 915.5,536.5 916.5,536.5 917.5,535.5 918.5,536.5 919.5,536.5 920.5,535.5 921.5,536.5 922.5,536.5 923.5,535.5 924.5,535.5 925.5,535.5 926.5,535.5 927.5,536.5 928.5,536.5 929.5,536.5 930.5,536.5 931.5,535.5 932.5,535.5 933.5,536.5 934.5,536.5 935.5,536.5 936.5,535.5 937.5,536.5 938.5,535.5 939.5,535.5 940.5,535.5 941.5,536.5 942.5,536.5 943.5,535.5 944.5,536.5 945.5,536.5 946.5,535.5 947.5,535.5 948.5,536.5 949.5,536.5 950.5,536.5 951.5,536.5 952.5,535.5 953.5,535.5 954.5,536.5 955.5,536.5 956.5,535.5 957.5,535.5 958.5,536.5 959.5,536.5 960.5,535.5 961.5,535.5 962.5,535.5 963.5,536.5 964.5,536.5 965.5,535.5 966.5,535.5 967.5,536.5 968.5,536.5 969.5,536.5 970.5,536.5 971.5,535.5 972.5,535.5 973.5,536.5 974.5,536.5 975.5,535.5 976.5,536.5 977.5,536.5 978.5,536.5 979.5,535.5 980.5,536.5 981.5,536.5 982.5,535.5 983.5,535.5 984.5,535.5 985.5,535.5 986.5,535.5 987.5,535.5 988.5,536.5 989.5,535.5 990.5,536.5 991.5,536.5 992.5,536.5 993.5,536.5 994.5,536.5 995.5,536.5 996.5,536.5 997.5,536.5 998.5,536.5 999.5,535.5 1000.5,535.5 1001.5,535.5 1002.5,535.5 1003.5,535.5 1004.5,535.5 1005.5,536.5 1006.5,536.5 1007.5,535.5 1008.5,535.5 1009.5,536.5 1010.5,535.5 1011.5,535.5 1012.5,536.5 1013.5,535.5 1014.5,536.5 1015.5,535.5 1016.5,536.5 1017.5,536.5 1018.5,535.5 1019.5,536.5 1020.5,536.5 1021.5,535.5 1022.5,535.5 1023.5,535.5 1024.5,535.5 1025.5,536.5 1026.5,536.5 1027.5,535.5 1028.5,535.5 1029.5,535.5 1030.5,536.5 1031.5,536.5 1032.5,536.5 1033.5,535.5 1034.5,535.5 1035.5,536.5 1036.5,536.5 1037.5,535.5 1038.5,535.5 1039.5,535.5 1040.5,536.5 1041.5,535.5 1042.5,535.5 1043.5,535.5 1044.5,535.5 1045.5,536.5 1046.5,536.5 1047.5,535.5 1048.5,536.5 1049.5,535.5 1050.5,535.5 1051.5,536.5 1052.5,535.5 1053.5,536.5 1054.5,535.5 1055.5,535.5 1056.5,535.5 1057.5,535.5 1058.5,535.5 1059.5,536.5 1060.5,535.5 1061.5,535.5 1062.5,536.5 1063.5,535.5 1064.5,535.5 1065.5,535.5 1066.5,535.5 1067.5,536.5 1068.5,536.5 1069.5,536.5 1070.5,535.5 1071.5,535.5 1072.5,536.5 1073.5,535.5 1074.5,536.5 1075.5,536.5 1076.5,536.5 1077.5,536.5 1078.5,535.5 1079.5,535.5 1080.5,536.5 1081.5,535.5 1082.5,536.5 1083.5,536.5 1084.5,536.5 1085.5,535.5 1086.5,536.5 1087.5,536.5 1088.5,536.5 1089.5,535.5 1090.5,536.5 1091.5,535.5 1092.5,536.5 1093.5,536.5 1094.5,535.5 1095.5,535.5 1096.5,535.5 1097.5,535.5 1098.5,535.5 1099.5,536.5 1100.5,535.5 1101.5,535.5 1102.5,535.5 1103.5,535.5 1104.5,535.5 1105.5,536.5 1106.5,536.5 1107.5,535.5 1108.5,535.5 1109.5,536.5 1110.5,536.5 1111.5,536.5 1112.5,535.5 1113.5,535.5 1114.5,536.5 1115.5,536.5 1116.5,535.5 1117.5,535.5 1118.5,535.5 1119.5,535.5 1120.5,536.5 1121.5,535.5 1122.5,536.5 1123.5,535.5 1124.5,536.5 1125.5,536.5 1126.5,536.5 1127.5,535.5 1128.5,535.5 1129.5,536.5 1130.5,535.5 1131.5,535.5 1132.5,535.5 1133.5,536.5 1134.5,536.5 1135.5,535.5 1136.5,536.5 1137.5,535.5 1138.5,536.5 1139.5,536.5 1140.5,535.5 1141.5,535.5 1142.5,536.5 1143.5,535.5 1144.5,536.5 1145.5,535.5 1146.5,536.5 1147.5,536.5 1148.5,536.5 1149.5,535.5 1150.5,536.5 1151.5,535.5 1152.5,535.5 1153.5,535.5 1154.5,535.5 1155.5,535.5 1156.5,535.5 1157.5,536.5 1158.5,536.5 1159.5,535.5 1160.5,536.5 1161.5,536.5 1162.5,536.5 1163.5,536.5 1164.5,536.5 1165.5,535.5 1166.5,535.5 1167.5,536.5 1168.5,535.5 1169.5,535.5 1170.5,536.5 1171.5,536.5 1172.5,535.5 1173.5,536.5 1174.5,535.5 1175.5,536.5 1176.5,536.5 1177.5,535.5 1178.5,535.5 1179.5,535.5 1180.5,536.5 1181.5,535.5 1182.5,535.5 1183.5,535.5 1184.5,535.5 1185.5,535.5 1186.5,535.5 1187.5,536.5 1188.5,535.5 1189.5,535.5 1190.5,536.5 1191.5,536.5 1192.5,535.5 1193.5,536.5 1194.5,536.5 1195.5,535.5 1196.5,536.5 1197.5,535.5 1198.5,535.5 1199.5,536.5 1200.5,535.5 1201.5,536.5 1202.5,535.5 1203.5,535.5 1204.5,535.5 1205.5,536.5 1206.5,536.5 1207.5,535.5 1208.5,535.5 1209.5,536.5 1210.5,535.5 1211.5,536.5 1212.5,535.5 1213.5,536.5 1214.5,535.5 1215.5,536.5 1216.5,536.5 1217.5,536.5 1218.5,535.5 1219.5,536.5 1220.5,535.5 1221.5,535.5 1222.5,536.5 1223.5,535.5 1224.5,535.5 1225.5,535.5 1226.5,536.5 1227.5,536.5 1228.5,536.5 1229.5,535.5 1230.5,536.5 1231.5,536.5 1232.5,535.5 1233.5,536.5 1234.5,535.5 1235.5,535.5 1236.5,535.5 1237.5,536.5 1238.5,536.5 1239.5,536.5 1240.5,535.5 1241.5,535.5 1242.5,535.5 1243.5,535.5 1244.5,536.5 1245.5,535.5 1246.5,535.5 1247.5,535.5 1248.5,535.5 1249.5,535.5 1250.5,536.5 1251.5,536.5 1252.5,535.5 1253.5,535.5 1254.5,535.5 1255.5,536.5 1256.5,535.5 1257.5,536.5 1258.5,536.5 1259.5,535.5 1260.5,535.5 1261.5,535.5 1262.5,536.5 1263.5,536.5 1264.5,536.5 1265.5,536.5 1266.5,535.5 1267.5,536.5 1268.5,536.5 1269.5,535.5 1270.5,535.5 1271.5,535.5 1272.5,535.5 1273.5,536.5 1274.5,535.5 1275.5,536.5 1276.5,536.5 1277.5,536.5 1278.5,535.5 1279.5,536.5 1280.5,535.5 1281.5,535.5 1282.5,536.5 1283.5,536.5 1284.5,536.5 1285.5,535.5 1286.5,536.5 1287.5,535.5 1288.5,536.5 1289.5,536.5 1290.5,535.5 1291.5,535.5 1292.5,535.5 1293.5,535.5 1294.5,535.5 1295.5,536.5 1296.5,535.5 1297.5,536.5 1298.5,535.5 1299.5,535.5 1300.5,535.5 1301.5,536.5 1302.5,536.5 1303.5,536.5 1304.5,536.5 1305.5,535.5 1306.5,535.5 1307.5,535.5 1308.5,535.5 1309.5,536.5 1310.5,535.5 1311.5,535.5 1312.5,536.5 1313.5,536.5 1314.5,536.5 1315.5,535.5 1316.5,535.5 1317.5,536.5 1318.5,535.5 1319.5,536.5 1320.5,535.5 1321.5,536.5 1322.5,536.5 1323.5,535.5 1324.5,535.5 1325.5,536.5 1326.5,536.5 1327.5,535.5 1328.5,535.5 1329.5,536.5 1330.5,536.5 1331.5,535.5 1332.5,536.5 1333.5,536.5 1334.5,535.5 1335.5,536.5 1336.5,536.5 1337.5,535.5 1338.5,535.5 1339.5,536.5 1340.5,535.5 1341.5,535.5 1342.5,536.5 1343.5,536.5 1344.5,536.5 1345.5,535.5 1346.5,536.5 1347.5,535.5 1348.5,535.5 1349.5,536.5 1350.5,536.5 1351.5,535.5 1352.5,535.5 1353.5,536.5 1354.5,536.5 1355.5,535.5 1356.5,536.5 1357.5,535.5 1358.5,535.5 1359.5,535.5 1360.5,535.5 1361.5,536.5 1362.5,536.5 1363.5,535.5 1364.5,536.5 1365.5,535.5 1366.5,536.5" stroke="#ff0000" stroke-width="1"/>
<line x1="1162.5" y1="304" x2="1162.5" y2="536.5" stroke="#ff0000" stroke-width="1"/>
<line x1="1163" y1="420" x2="1163" y2="536.5" stroke="#ff0000" stroke-width="2"/>
<line x1="1109.5" y1="492" x2="1109.5" y2="536.5" stroke="#ff0000" stroke-width="1"/>
<line x1="1110.5" y1="516" x2="1110.5" y2="536.5" stroke="#ff0000" stroke-width="1"/>
<line x1="220.5" y1="516" x2="220.5" y2="536.5" stroke="#ff0000" stroke-width="1"/>
<line x1="456.5" y1="507" x2="456.5" y2="536.5" stroke="#ff0000" stroke-width="2"/>
<line x1="458.5" y1="520" x2="458.5" y2="536.5" stroke="#ff0000" stroke-width="2"/>
<line x1="797.5" y1="497" x2="797.5" y2="536.5" stroke="#ff0000" stroke-width="1"/>
<line x1="798.5" y1="505" x2="798.5" y2="536.5" stroke="#ff0000" stroke-width="1"/>
<line x1="889.5" y1="528" x2="889.5" y2="536.5" stroke="#ff0000" stroke-width="1"/>
<line x1="1084.5" y1="528" x2="1084.5" y2="536.5" stroke="#ff0000" stroke-width="1"/>
<line x1="1006.5" y1="528" x2="1006.5" y2="536.5" stroke="#ff0000" stroke-width="1"/>
<line x1="760.5" y1="528" x2="760.5" y2="536.5" stroke="#ff0000" stroke-width="1"/>
<line x1="612.5" y1="528" x2="612.5" y2="536.5" stroke="#ff0000" stroke-width="1"/>
<line x1="350.5" y1="528" x2="350.5" y2="536.5" stroke="#ff0000" stroke-width="1"/>
<line x1="1240.5" y1="528" x2="1240.5" y2="536.5" stroke="#ff0000" stroke-width="1"/>
<polyline points="102.5,524.5 103.5,533.5 104.5,534.5 105.5,518.5 106.5,526.5 107.5,535.5 108.5,534.5 109.5,533.5 110.5,535.5 111.5,534.5 112.5,535.5 113.5,535.5 114.5,511.5 115.5,516.5 116.5,535.5 117.5,533.5 118.5,535.5 119.5,535.5 120.5,534.5 121.5,535.5 122.5,535.5 123.5,524.5 124.5,527.5 125.5,535.5 126.5,535.5 127.5,534.5 128.5,534.5 129.5,526.5 130.5,526.5 131.5,533.5 132.5,534.5 133.5,534.5 134.5,522.5 135.5,535.5 136.5,528.5 137.5,535.5 138.5,535.5 139.5,535.5 140.5,525.5 141.5,523.5 142.5,534.5 143.5,535.5 144.5,535.5 145.5,535.5 146.5,524.5 147.5,535.5 148.5,535.5 149.5,535.5 151.5,530.5 180.0,530.5 180.0,531.5 206.5,531.5 207.5,535.5 208.5,535.5 209.5,534.5 210.5,534.5 211.5,535.5 212.5,534.5 213.5,522.5 214.5,535.5 215.5,534.5 216.5,535.5 217.5,525.5 218.5,523.5 219.5,523.5 220.5,535.5 221.5,535.5 222.5,535.5 223.5,533.5 224.5,525.5 225.5,523.5 226.5,529.5 227.5,534.5 228.5,519.5 229.5,522.5 230.5,533.5 231.5,535.5 232.5,533.5 233.5,535.5 234.5,533.5 235.5,533.5 236.5,523.5 237.5,535.5 238.5,535.5 239.5,521.5 240.5,525.5 241.5,519.5 242.5,521.5 243.5,534.5 244.5,526.5 245.5,534.5 246.5,535.5 247.5,534.5 248.5,535.5 249.5,533.5 250.5,535.5 251.5,535.5 252.5,535.5 253.5,524.5 254.5,534.5 255.5,533.5 256.5,520.5 257.5,534.5 258.5,534.5 259.5,535.5 260.5,534.5 261.5,535.5 262.5,535.5 263.5,519.5 264.5,516.5 265.5,524.5 266.5,528.5 267.5,528.5 268.5,515.5 269.5,526.5 270.5,534.5 271.5,535.5 272.5,535.5 273.5,516.5 274.5,525.5 275.5,516.5 276.5,519.5 277.5,534.5 278.5,535.5 279.5,535.5 280.5,524.5 281.5,535.5 282.5,535.5 283.5,528.5 284.5,521.5 285.5,535.5 286.5,535.5 287.5,535.5 288.5,535.5 289.5,510.5 290.5,528.5 291.5,534.5 292.5,525.5 293.5,535.5 294.5,535.5 295.5,535.5 296.5,523.5 297.5,533.5 298.5,535.5 299.5,524.5 300.5,525.5 301.5,535.5 302.5,534.5 303.5,535.5 304.5,522.5 305.5,534.5 306.5,533.5 307.5,526.5 308.5,533.5 309.5,527.5 310.5,527.5 311.5,529.5 312.5,528.5 313.5,518.5 314.5,535.5 315.5,535.5 316.5,520.5 317.5,535.5 318.5,535.5 319.5,535.5 320.5,534.5 321.5,528.5 322.5,535.5 323.5,535.5 324.5,523.5 325.5,535.5 326.5,535.5 327.5,535.5 328.5,535.5 329.5,534.5 330.5,533.5 331.5,533.5 332.5,533.5 333.5,535.5 334.5,524.5 335.5,535.5 336.5,535.5 337.5,520.5 338.5,525.5 339.5,533.5 340.5,535.5 341.5,535.5 342.5,534.5 343.5,535.5 344.5,535.5 345.5,524.5 346.5,526.5 347.5,528.5 348.5,510.5 349.5,535.5 350.5,533.5 351.5,535.5 352.5,535.5 353.5,535.5 354.5,535.5 355.5,535.5 356.5,533.5 357.5,533.5 358.5,527.5 359.5,528.5 360.5,535.5 361.5,521.5 362.5,535.5 363.5,528.5 364.5,532.5 365.5,535.5 366.5,518.5 367.5,525.5 368.5,533.5 369.5,535.5 370.5,535.5 371.5,535.5 372.5,523.5 373.5,534.5 374.5,535.5 375.5,525.5 376.5,535.5 377.5,512.5 378.5,535.5 379.5,522.5 380.5,535.5 381.5,512.5 382.5,519.5 383.5,533.5 384.5,535.5 385.5,526.5 386.5,533.5 387.5,533.5 388.5,525.5 389.5,535.5 390.5,535.5 391.5,533.5 392.5,534.5 393.5,535.5 394.5,535.5 395.5,535.5 396.5,535.5 397.5,534.5 398.5,533.5 399.5,535.5 400.5,525.5 401.5,524.5 402.5,526.5 403.5,535.5 404.5,535.5 405.5,535.5 406.5,535.5 407.5,523.5 408.5,533.5 409.5,521.5 410.5,535.5 411.5,533.5 412.5,523.5 413.5,534.5 414.5,534.5 415.5,517.5 416.5,518.5 417.5,535.5 418.5,534.5 419.5,535.5 420.5,533.5 421.5,533.5 422.5,534.5 423.5,522.5 424.5,525.5 425.5,527.5 426.5,520.5 427.5,523.5 428.5,535.5 429.5,526.5 430.5,525.5 431.5,526.5 432.5,523.5 433.5,535.5 434.5,535.5 435.5,535.5 436.5,535.5 437.5,518.5 438.5,528.5 439.5,535.5 440.5,535.5 441.5,535.5 442.5,535.5 443.5,535.5 444.5,527.5 445.5,530.5 446.5,534.5 447.5,535.5 448.5,535.5 449.5,525.5 450.5,535.5 451.5,533.5 452.5,518.5 453.5,535.5 454.5,528.5 455.5,529.5 456.5,525.5 457.5,530.5 458.5,525.5 459.5,531.5 460.5,527.5 461.5,528.5 462.5,533.5 463.5,535.5 464.5,535.5 465.5,535.5 466.5,525.5 467.5,529.5 468.5,515.5 469.5,535.5 470.5,519.5 471.5,535.5 472.5,534.5 473.5,519.5 474.5,535.5 475.5,525.5 476.5,528.5 477.5,522.5 478.5,526.5 479.5,535.5 480.5,535.5 481.5,510.5 482.5,535.5 483.5,535.5 484.5,534.5 485.5,535.5 486.5,526.5 487.5,525.5 488.5,528.5 489.5,535.5 490.5,533.5 491.5,534.5 492.5,535.5 493.5,535.5 494.5,535.5 495.5,535.5 496.5,535.5 497.5,534.5 498.5,533.5 499.5,535.5 500.5,527.5 501.5,535.5 502.5,533.5 503.5,535.5 504.5,518.5 505.5,535.5 506.5,533.5 507.5,535.5 508.5,527.5 509.5,535.5 510.5,535.5 511.5,533.5 512.5,522.5 513.5,535.5 514.5,535.5 515.5,526.5 516.5,528.5 517.5,534.5 518.5,534.5 519.5,534.5 520.5,535.5 521.5,528.5 522.5,528.5 523.5,516.5 524.5,523.5 525.5,518.5 526.5,533.5 527.5,535.5 528.5,533.5 529.5,535.5 530.5,512.5 531.5,535.5 532.5,535.5 533.5,522.5 534.5,529.5 535.5,534.5 536.5,535.5 537.5,533.5 538.5,524.5 539.5,526.5 540.5,527.5 541.5,526.5 542.5,527.5 543.5,535.5 544.5,534.5 545.5,535.5 546.5,534.5 547.5,535.5 548.5,535.5 549.5,534.5 550.5,535.5 551.5,535.5 552.5,527.5 553.5,524.5 554.5,520.5 555.5,526.5 556.5,533.5 557.5,520.5 558.5,525.5 559.5,535.5 560.5,527.5 561.5,535.5 562.5,533.5 563.5,535.5 564.5,535.5 565.5,534.5 566.5,511.5 567.5,525.5 568.5,535.5 569.5,535.5 570.5,534.5 571.5,527.5 572.5,535.5 573.5,535.5 574.5,520.5 575.5,535.5 576.5,535.5 577.5,535.5 578.5,525.5 579.5,531.5 580.5,535.5 581.5,535.5 582.5,519.5 583.5,528.5 584.5,533.5 585.5,520.5 586.5,533.5 587.5,535.5 588.5,535.5 589.5,535.5 590.5,528.5 591.5,519.5 592.5,534.5 593.5,535.5 594.5,535.5 595.5,528.5 596.5,529.5 597.5,520.5 598.5,526.5 599.5,529.5 600.5,535.5 601.5,535.5 602.5,535.5 603.5,534.5 604.5,535.5 605.5,534.5 606.5,535.5 607.5,520.5 608.5,525.5 609.5,531.5 610.5,533.5 611.5,535.5 612.5,535.5 613.5,535.5 614.5,535.5 615.5,528.5 616.5,530.5 617.5,535.5 618.5,526.5 619.5,527.5 620.5,531.5 621.5,533.5 622.5,535.5 623.5,535.5 624.5,533.5 625.5,526.5 626.5,524.5 627.5,529.5 628.5,535.5 629.5,521.5 630.5,535.5 631.5,535.5 632.5,535.5 633.5,535.5 634.5,533.5 635.5,535.5 636.5,510.5 637.5,535.5 638.5,535.5 639.5,535.5 640.5,527.5 641.5,530.5 642.5,534.5 643.5,527.5 644.5,535.5 645.5,526.5 646.5,533.5 647.5,535.5 648.5,526.5 649.5,534.5 650.5,534.5 651.5,535.5 652.5,525.5 653.5,535.5 654.5,533.5 655.5,510.5 656.5,526.5 657.5,531.5 658.5,535.5 659.5,535.5 660.5,528.5 661.5,534.5 662.5,534.5 663.5,535.5 664.5,524.5 665.5,523.5 666.5,527.5 667.5,535.5 668.5,533.5 669.5,533.5 670.5,533.5 671.5,535.5 672.5,535.5 673.5,527.5 674.5,535.5 675.5,535.5 676.5,510.5 677.5,534.5 678.5,535.5 679.5,534.5 680.5,534.5 681.5,525.5 682.5,535.5 683.5,517.5 684.5,535.5 685.5,535.5 686.5,535.5 687.5,535.5 688.5,535.5 689.5,525.5 690.5,533.5 691.5,535.5 692.5,535.5 693.5,535.5 694.5,534.5 695.5,516.5 696.5,523.5 697.5,528.5 698.5,535.5 699.5,533.5 700.5,535.5 701.5,533.5 702.5,534.5 703.5,535.5 704.5,527.5 705.5,530.5 706.5,527.5 707.5,535.5 708.5,535.5 709.5,535.5 710.5,535.5 711.5,534.5 712.5,534.5 713.5,533.5 714.5,526.5 715.5,535.5 716.5,516.5 717.5,535.5 718.5,535.5 719.5,535.5 720.5,535.5 721.5,534.5 722.5,526.5 723.5,535.5 724.5,535.5 725.5,534.5 726.5,534.5 727.5,535.5 728.5,525.5 729.5,535.5 730.5,535.5 731.5,534.5 732.5,523.5 733.5,527.5 734.5,535.5 735.5,535.5 736.5,534.5 737.5,533.5 738.5,535.5 739.5,525.5 740.5,530.5 741.5,535.5 742.5,527.5 743.5,534.5 744.5,535.5 745.5,535.5 746.5,535.5 747.5,533.5 748.5,535.5 749.5,525.5 750.5,530.5 751.5,535.5 752.5,535.5 753.5,535.5 754.5,525.5 755.5,521.5 756.5,525.5 757.5,535.5 758.5,534.5 759.5,534.5 760.5,535.5 761.5,535.5 762.5,535.5 763.5,535.5 764.5,534.5 765.5,524.5 766.5,535.5 767.5,535.5 768.5,534.5 769.5,535.5 770.5,525.5 771.5,526.5 772.5,531.5 773.5,523.5 774.5,524.5 775.5,535.5 776.5,533.5 777.5,527.5 778.5,535.5 779.5,533.5 780.5,534.5 781.5,535.5 782.5,533.5 783.5,535.5 784.5,534.5 785.5,535.5 786.5,535.5 787.5,535.5 788.5,527.5 789.5,535.5 790.5,535.5 791.5,535.5 792.5,525.5 793.5,529.5 794.5,535.5 795.5,534.5 796.5,535.5 797.5,522.5 798.5,526.5 799.5,525.5 800.5,535.5 801.5,526.5 802.5,527.5 803.5,512.5 804.5,535.5 805.5,533.5 806.5,523.5 807.5,527.5 808.5,533.5 809.5,535.5 810.5,521.5 811.5,525.5 812.5,535.5 813.5,522.5 814.5,526.5 815.5,535.5 816.5,534.5 817.5,534.5 818.5,535.5 819.5,524.5 820.5,535.5 821.5,525.5 822.5,527.5 823.5,521.5 824.5,524.5 825.5,535.5 826.5,524.5 827.5,535.5 828.5,527.5 829.5,525.5 830.5,530.5 831.5,534.5 832.5,535.5 833.5,523.5 834.5,528.5 835.5,529.5 836.5,535.5 837.5,533.5 838.5,535.5 839.5,518.5 840.5,523.5 841.5,535.5 842.5,524.5 843.5,525.5 844.5,519.5 845.5,535.5 846.5,533.5 847.5,535.5 848.5,535.5 849.5,535.5 850.5,527.5 851.5,534.5 852.5,522.5 853.5,529.5 854.5,534.5 855.5,535.5 856.5,534.5 857.5,520.5 858.5,533.5 859.5,523.5 860.5,535.5 861.5,534.5 862.5,535.5 863.5,534.5 864.5,535.5 865.5,535.5 866.5,534.5 867.5,525.5 868.5,524.5 869.5,514.5 870.5,524.5 871.5,527.5 872.5,535.5 873.5,522.5 874.5,527.5 875.5,535.5 876.5,535.5 877.5,535.5 878.5,533.5 879.5,510.5 880.5,524.5 881.5,534.5 882.5,533.5 883.5,533.5 884.5,510.5 885.5,514.5 886.5,535.5 887.5,522.5 888.5,533.5 889.5,535.5 890.5,535.5 891.5,535.5 892.5,535.5 893.5,535.5 894.5,533.5 895.5,526.5 896.5,535.5 897.5,535.5 898.5,534.5 899.5,526.5 900.5,535.5 901.5,535.5 902.5,527.5 903.5,516.5 904.5,535.5 905.5,535.5 906.5,535.5 907.5,533.5 908.5,534.5 909.5,527.5 910.5,529.5 911.5,533.5 912.5,534.5 913.5,535.5 914.5,534.5 915.5,535.5 916.5,535.5 917.5,533.5 918.5,535.5 919.5,535.5 920.5,533.5 921.5,533.5 922.5,519.5 923.5,535.5 924.5,523.5 925.5,517.5 926.5,535.5 927.5,522.5 928.5,533.5 929.5,535.5 930.5,528.5 931.5,535.5 932.5,527.5 933.5,531.5 934.5,535.5 935.5,535.5 936.5,515.5 937.5,524.5 938.5,524.5 939.5,534.5 940.5,535.5 941.5,535.5 942.5,535.5 943.5,535.5 944.5,527.5 945.5,533.5 946.5,535.5 947.5,535.5 948.5,515.5 949.5,524.5 950.5,535.5 951.5,535.5 952.5,533.5 953.5,525.5 954.5,533.5 955.5,535.5 956.5,527.5 957.5,517.5 958.5,526.5 959.5,535.5 960.5,534.5 961.5,535.5 962.5,534.5 963.5,524.5 964.5,535.5 965.5,535.5 966.5,535.5 967.5,535.5 968.5,518.5 969.5,524.5 970.5,533.5 971.5,535.5 972.5,535.5 973.5,535.5 974.5,535.5 975.5,533.5 976.5,535.5 977.5,535.5 978.5,535.5 979.5,519.5 980.5,528.5 981.5,535.5 982.5,535.5 983.5,535.5 984.5,535.5 985.5,520.5 986.5,535.5 987.5,533.5 988.5,533.5 989.5,535.5 990.5,520.5 991.5,527.5 992.5,531.5 993.5,535.5 994.5,535.5 995.5,516.5 996.5,535.5 997.5,534.5 998.5,535.5 999.5,535.5 1000.5,533.5 1001.5,535.5 1002.5,523.5 1003.5,525.5 1004.5,534.5 1005.5,535.5 1006.5,521.5 1007.5,535.5 1008.5,520.5 1009.5,535.5 1010.5,515.5 1011.5,526.5 1012.5,525.5 1013.5,529.5 1014.5,535.5 1015.5,534.5 1016.5,535.5 1017.5,533.5 1018.5,534.5 1019.5,535.5 1020.5,533.5 1021.5,534.5 1022.5,534.5 1023.5,516.5 1024.5,533.5 1025.5,520.5 1026.5,522.5 1027.5,524.5 1028.5,535.5 1029.5,533.5 1030.5,523.5 1031.5,527.5 1032.5,528.5 1033.5,534.5 1034.5,525.5 1035.5,529.5 1036.5,526.5 1037.5,529.5 1038.5,533.5 1039.5,535.5 1040.5,525.5 1041.5,534.5 1042.5,535.5 1043.5,524.5 1044.5,535.5 1045.5,535.5 1046.5,527.5 1047.5,528.5 1048.5,535.5 1049.5,534.5 1050.5,535.5 1051.5,524.5 1052.5,534.5 1053.5,526.5 1054.5,534.5 1055.5,535.5 1056.5,533.5 1057.5,535.5 1058.5,535.5 1059.5,533.5 1060.5,535.5 1061.5,535.5 1062.5,535.5 1063.5,527.5 1064.5,521.5 1065.5,535.5 1066.5,535.5 1067.5,526.5 1068.5,533.5 1069.5,535.5 1070.5,535.5 1071.5,535.5 1072.5,535.5 1073.5,535.5 1074.5,535.5 1075.5,527.5 1076.5,535.5 1077.5,535.5 1078.5,527.5 1079.5,534.5 1080.5,535.5 1081.5,535.5 1082.5,535.5 1083.5,535.5 1084.5,535.5 1085.5,525.5 1086.5,527.5 1087.5,535.5 1088.5,535.5 1089.5,518.5 1090.5,533.5 1091.5,535.5 1092.5,526.5 1093.5,527.5 1094.5,534.5 1095.5,535.5 1096.5,535.5 1097.5,535.5 1098.5,535.5 1099.5,535.5 1100.5,535.5 1101.5,535.5 1102.5,533.5 1103.5,535.5 1104.5,535.5 1105.5,535.5 1106.5,534.5 1107.5,535.5 1108.5,534.5 1109.5,535.5 1110.5,535.5 1111.5,524.5 1112.5,525.5 1113.5,535.5 1114.5,533.5 1115.5,534.5 1116.5,522.5 1117.5,535.5 1118.5,519.5 1119.5,524.5 1120.5,535.5 1121.5,535.5 1122.5,534.5 1123.5,535.5 1124.5,535.5 1125.5,534.5 1126.5,535.5 1127.5,535.5 1128.5,526.5 1129.5,524.5 1130.5,535.5 1131.5,522.5 1132.5,526.5 1133.5,535.5 1134.5,528.5 1135.5,523.5 1136.5,526.5 1137.5,525.5 1138.5,527.5 1139.5,531.5 1140.5,535.5 1141.5,527.5 1142.5,529.5 1143.5,535.5 1144.5,527.5 1145.5,524.5 1146.5,527.5 1147.5,533.5 1148.5,517.5 1149.5,535.5 1150.5,533.5 1151.5,523.5 1152.5,529.5 1153.5,535.5 1154.5,535.5 1155.5,535.5 1156.5,534.5 1157.5,535.5 1158.5,525.5 1159.5,525.5 1160.5,534.5 1161.5,535.5 1162.5,534.5 1163.5,527.5 1164.5,535.5 1165.5,525.5 1166.5,533.5 1167.5,528.5 1168.5,535.5 1169.5,519.5 1170.5,535.5 1171.5,535.5 1172.5,518.5 1173.5,521.5 1174.5,535.5 1175.5,526.5 1176.5,530.5 1177.5,517.5 1178.5,535.5 1179.5,535.5 1180.5,535.5 1181.5,526.5 1182.5,533.5 1183.5,535.5 1184.5,535.5 1185.5,533.5 1186.5,535.5 1187.5,522.5 1188.5,525.5 1189.5,535.5 1190.5,535.5 1191.5,533.5 1192.5,535.5 1193.5,535.5 1194.5,521.5 1195.5,533.5 1196.5,533.5 1197.5,535.5 1198.5,522.5 1199.5,535.5 1200.5,510.5 1201.5,534.5 1202.5,533.5 1203.5,534.5 1204.5,535.5 1205.5,535.5 1206.5,518.5 1207.5,535.5 1208.5,510.5 1209.5,525.5 1210.5,530.5 1211.5,533.5 1212.5,535.5 1213.5,527.5 1214.5,533.5 1215.5,535.5 1216.5,534.5 1217.5,533.5 1218.5,535.5 1219.5,516.5 1220.5,525.5 1221.5,535.5 1222.5,535.5 1223.5,535.5 1224.5,535.5 1225.5,535.5 1226.5,521.5 1227.5,527.5 1228.5,535.5 1229.5,533.5 1230.5,533.5 1231.5,526.5 1232.5,527.5 1233.5,526.5 1234.5,530.5 1235.5,535.5 1236.5,535.5 1237.5,519.5 1238.5,523.5 1239.5,525.5 1240.5,534.5 1241.5,525.5 1242.5,527.5 1243.5,528.5 1244.5,529.5 1245.5,526.5 1246.5,535.5 1247.5,528.5 1248.5,530.5 1249.5,535.5 1250.5,518.5 1251.5,521.5 1252.5,535.5 1253.5,535.5 1254.5,535.5 1255.5,535.5 1256.5,535.5 1257.5,517.5 1258.5,523.5 1259.5,534.5 1260.5,527.5 1261.5,532.5 1262.5,517.5 1263.5,525.5 1264.5,535.5 1265.5,523.5 1266.5,535.5 1267.5,535.5 1268.5,522.5 1269.5,524.5 1270.5,522.5 1271.5,525.5 1272.5,526.5 1273.5,530.5 1274.5,535.5 1275.5,535.5 1276.5,534.5 1277.5,535.5 1278.5,533.5 1279.5,533.5 1280.5,534.5 1281.5,535.5 1282.5,535.5 1283.5,533.5 1284.5,535.5 1285.5,535.5 1286.5,534.5 1287.5,535.5 1288.5,535.5 1289.5,528.5 1290.5,527.5 1291.5,523.5 1292.5,535.5 1293.5,535.5 1294.5,534.5 1295.5,526.5 1296.5,527.5 1297.5,525.5 1298.5,535.5 1299.5,535.5 1300.5,534.5 1301.5,525.5 1302.5,526.5 1303.5,528.5 1304.5,524.5 1305.5,527.5 1306.5,535.5 1307.5,526.5 1308.5,535.5 1309.5,525.5 1310.5,522.5 1311.5,524.5 1312.5,535.5 1313.5,535.5 1314.5,527.5 1315.5,535.5 1316.5,533.5 1317.5,535.5 1318.5,526.5 1319.5,526.5 1320.5,530.5 1321.5,534.5 1322.5,534.5 1323.5,534.5 1324.5,535.5 1325.5,535.5 1326.5,535.5 1327.5,526.5 1328.5,527.5 1329.5,524.5 1330.5,527.5 1331.5,524.5 1332.5,525.5 1333.5,525.5 1334.5,528.5 1335.5,535.5 1336.5,525.5 1337.5,533.5 1338.5,535.5 1339.5,534.5 1340.5,533.5 1341.5,524.5 1342.5,523.5 1343.5,535.5 1344.5,525.5 1345.5,524.5 1346.5,526.5 1347.5,535.5 1348.5,534.5 1349.5,535.5 1350.5,511.5 1351.5,528.5 1352.5,533.5 1353.5,535.5 1354.5,535.5 1355.5,535.5 1356.5,535.5 1357.5,527.5 1358.5,534.5 1359.5,534.5 1360.5,525.5 1361.5,535.5 1362.5,535.5 1363.5,535.5 1364.5,535.5" stroke="#00c000" stroke-width="1"/>
<line x1="151" y1="531.5" x2="180" y2="531.5" stroke="#00c000"/>
<line x1="262" y1="530.5" x2="430" y2="530.5" stroke="#00c000"/>
<line x1="430" y1="529.5" x2="560" y2="529.5" stroke="#00c000"/>
<line x1="560" y1="528.5" x2="640" y2="528.5" stroke="#00c000"/>
<line x1="640" y1="527.5" x2="760" y2="527.5" stroke="#00c000"/>
<line x1="760" y1="526.5" x2="850" y2="526.5" stroke="#00c000"/>
<line x1="850" y1="525.5" x2="950" y2="525.5" stroke="#00c000"/>
<line x1="950" y1="524.5" x2="1000" y2="524.5" stroke="#00c000"/>
<line x1="1000" y1="523.5" x2="1050" y2="523.5" stroke="#00c000"/>
<line x1="1050" y1="522.5" x2="1205" y2="522.5" stroke="#00c000"/>
<line x1="1205" y1="520.5" x2="1313" y2="520.5" stroke="#00c000"/>
<line x1="1313" y1="519.5" x2="1364" y2="519.5" stroke="#00c000"/>
<line x1="459.5" y1="490" x2="459.5" y2="534.5" stroke="#00c000" stroke-width="1"/>
<line x1="460.5" y1="498" x2="460.5" y2="534.5" stroke="#00c000" stroke-width="1"/>
<line x1="270.5" y1="486" x2="270.5" y2="534.5" stroke="#00c000" stroke-width="1"/>
<line x1="271.5" y1="505" x2="271.5" y2="534.5" stroke="#00c000" stroke-width="1"/>
<line x1="538.5" y1="495" x2="538.5" y2="534.5" stroke="#00c000" stroke-width="1"/>
<line x1="539.5" y1="505" x2="539.5" y2="534.5" stroke="#00c000" stroke-width="1"/>
<line x1="804.5" y1="494" x2="804.5" y2="534.5" stroke="#00c000" stroke-width="1"/>
<line x1="803.5" y1="510" x2="803.5" y2="534.5" stroke="#00c000" stroke-width="1"/>
<line x1="1061.5" y1="508" x2="1061.5" y2="534.5" stroke="#00c000" stroke-width="1"/>
<line x1="1093.5" y1="510" x2="1093.5" y2="534.5" stroke="#00c000" stroke-width="1"/>
<line x1="1004.5" y1="512" x2="1004.5" y2="534.5" stroke="#00c000" stroke-width="1"/>
<line x1="1128.5" y1="504" x2="1128.5" y2="534.5" stroke="#00c000" stroke-width="1"/>
<line x1="1248.5" y1="494" x2="1248.5" y2="534.5" stroke="#00c000" stroke-width="1"/>
<line x1="1249.5" y1="507" x2="1249.5" y2="534.5" stroke="#00c000" stroke-width="1"/>
<line x1="1320.5" y1="511" x2="1320.5" y2="534.5" stroke="#00c000" stroke-width="1"/>
<line x1="1165.5" y1="512" x2="1165.5" y2="534.5" stroke="#00c000" stroke-width="1"/>
<line x1="1304.5" y1="509" x2="1304.5" y2="534.5" stroke="#00c000" stroke-width="1"/>
<line x1="145.5" y1="515" x2="145.5" y2="534.5" stroke="#00c000" stroke-width="1"/>
<line x1="102.5" y1="520" x2="102.5" y2="534.5" stroke="#00c000" stroke-width="1"/>
<polyline points="102.5,533.5 103.5,534.5 104.5,533.5 105.5,521.5 106.5,534.5 107.5,526.5 108.5,528.5 109.5,534.5 110.5,534.5 111.5,532.5 112.5,532.5 113.5,528.5 114.5,527.5 115.5,531.5 116.5,534.5 117.5,534.5 118.5,532.5 119.5,528.5 120.5,530.5 121.5,533.5 122.5,534.5 123.5,534.5 124.5,533.5 125.5,528.5 126.5,534.5 127.5,534.5 128.5,534.5 129.5,517.5 130.5,524.5 131.5,534.5 132.5,524.5 133.5,528.5 134.5,528.5 135.5,534.5 136.5,522.5 137.5,527.5 138.5,532.5 139.5,534.5 140.5,532.5 141.5,534.5 142.5,534.5 143.5,534.5 144.5,519.5 145.5,534.5 146.5,526.5 147.5,534.5 148.5,527.5 149.5,524.5 148.5,535.5 206.5,535.5 207.5,534.5 208.5,524.5 209.5,527.5 210.5,534.5 211.5,524.5 212.5,526.5 213.5,527.5 214.5,534.5 215.5,533.5 216.5,517.5 217.5,534.5 218.5,527.5 219.5,522.5 220.5,533.5 221.5,533.5 222.5,522.5 223.5,528.5 224.5,533.5 225.5,534.5 226.5,517.5 227.5,526.5 228.5,530.5 229.5,525.5 230.5,527.5 231.5,532.5 232.5,533.5 233.5,533.5 234.5,528.5 235.5,534.5 236.5,523.5 237.5,534.5 238.5,528.5 239.5,534.5 240.5,532.5 241.5,534.5 242.5,534.5 243.5,532.5 244.5,534.5 245.5,534.5 246.5,534.5 247.5,533.5 248.5,523.5 249.5,528.5 250.5,531.5 251.5,526.5 252.5,527.5 253.5,534.5 254.5,533.5 255.5,522.5 256.5,525.5 257.5,534.5 258.5,534.5 259.5,533.5 260.5,534.5 261.5,528.5 262.5,530.5 263.5,527.5 264.5,534.5 265.5,534.5 266.5,523.5 267.5,527.5 268.5,534.5 269.5,534.5 270.5,517.5 271.5,526.5 272.5,534.5 273.5,534.5 274.5,534.5 275.5,534.5 276.5,534.5 277.5,533.5 278.5,534.5 279.5,533.5 280.5,534.5 281.5,534.5 282.5,534.5 283.5,534.5 284.5,534.5 285.5,533.5 286.5,527.5 287.5,520.5 288.5,527.5 289.5,524.5 290.5,532.5 291.5,534.5 292.5,532.5 293.5,520.5 294.5,524.5 295.5,533.5 296.5,534.5 297.5,521.5 298.5,533.5 299.5,534.5 300.5,532.5 301.5,534.5 302.5,532.5 303.5,534.5 304.5,532.5 305.5,534.5 306.5,533.5 307.5,533.5 308.5,534.5 309.5,532.5 310.5,534.5 311.5,532.5 312.5,534.5 313.5,518.5 314.5,533.5 315.5,534.5 316.5,522.5 317.5,526.5 318.5,526.5 319.5,517.5 320.5,520.5 321.5,534.5 322.5,526.5 323.5,527.5 324.5,532.5 325.5,534.5 326.5,532.5 327.5,527.5 328.5,522.5 329.5,533.5 330.5,523.5 331.5,533.5 332.5,519.5 333.5,533.5 334.5,534.5 335.5,533.5 336.5,526.5 337.5,517.5 338.5,534.5 339.5,532.5 340.5,517.5 341.5,534.5 342.5,525.5 343.5,529.5 344.5,534.5 345.5,534.5 346.5,524.5 347.5,521.5 348.5,528.5 349.5,523.5 350.5,528.5 351.5,534.5 352.5,533.5 353.5,525.5 354.5,529.5 355.5,534.5 356.5,523.5 357.5,533.5 358.5,524.5 359.5,533.5 360.5,534.5 361.5,522.5 362.5,534.5 363.5,534.5 364.5,517.5 365.5,527.5 366.5,528.5 367.5,532.5 368.5,526.5 369.5,527.5 370.5,534.5 371.5,525.5 372.5,532.5 373.5,534.5 374.5,534.5 375.5,524.5 376.5,534.5 377.5,527.5 378.5,531.5 379.5,523.5 380.5,523.5 381.5,529.5 382.5,534.5 383.5,534.5 384.5,526.5 385.5,527.5 386.5,534.5 387.5,534.5 388.5,534.5 389.5,534.5 390.5,528.5 391.5,532.5 392.5,533.5 393.5,533.5 394.5,534.5 395.5,534.5 396.5,527.5 397.5,517.5 398.5,524.5 399.5,534.5 400.5,534.5 401.5,532.5 402.5,521.5 403.5,528.5 404.5,532.5 405.5,534.5 406.5,517.5 407.5,532.5 408.5,534.5 409.5,534.5 410.5,534.5 411.5,532.5 412.5,526.5 413.5,527.5 414.5,530.5 415.5,534.5 416.5,534.5 417.5,527.5 418.5,533.5 419.5,533.5 420.5,534.5 421.5,532.5 422.5,524.5 423.5,517.5 424.5,523.5 425.5,525.5 426.5,517.5 427.5,533.5 428.5,525.5 429.5,517.5 430.5,534.5 431.5,527.5 432.5,531.5 433.5,534.5 434.5,526.5 435.5,532.5 436.5,534.5 437.5,534.5 438.5,534.5 439.5,522.5 440.5,528.5 441.5,534.5 442.5,517.5 443.5,521.5 444.5,526.5 445.5,527.5 446.5,534.5 447.5,525.5 448.5,534.5 449.5,532.5 450.5,532.5 451.5,534.5 452.5,532.5 453.5,525.5 454.5,525.5 455.5,524.5 456.5,534.5 457.5,534.5 458.5,527.5 459.5,532.5 460.5,528.5 461.5,530.5 462.5,534.5 463.5,527.5 464.5,534.5 465.5,532.5 466.5,534.5 467.5,534.5 468.5,534.5 469.5,534.5 470.5,534.5 471.5,533.5 472.5,534.5 473.5,532.5 474.5,521.5 475.5,533.5 476.5,524.5 477.5,534.5 478.5,533.5 479.5,519.5 480.5,527.5 481.5,534.5 482.5,534.5 483.5,521.5 484.5,528.5 485.5,534.5 486.5,534.5 487.5,532.5 488.5,518.5 489.5,523.5 490.5,517.5 491.5,524.5 492.5,532.5 493.5,534.5 494.5,534.5 495.5,534.5 496.5,532.5 497.5,534.5 498.5,520.5 499.5,524.5 500.5,534.5 501.5,534.5 502.5,533.5 503.5,524.5 504.5,530.5 505.5,534.5 506.5,534.5 507.5,533.5 508.5,526.5 509.5,528.5 510.5,533.5 511.5,533.5 512.5,528.5 513.5,534.5 514.5,523.5 515.5,525.5 516.5,532.5 517.5,521.5 518.5,534.5 519.5,534.5 520.5,534.5 521.5,532.5 522.5,524.5 523.5,526.5 524.5,534.5 525.5,534.5 526.5,534.5 527.5,532.5 528.5,526.5 529.5,530.5 530.5,534.5 531.5,527.5 532.5,534.5 533.5,526.5 534.5,526.5 535.5,526.5 536.5,528.5 537.5,534.5 538.5,534.5 539.5,525.5 540.5,527.5 541.5,533.5 542.5,533.5 543.5,534.5 544.5,527.5 545.5,528.5 546.5,524.5 547.5,534.5 548.5,534.5 549.5,534.5 550.5,534.5 551.5,534.5 552.5,534.5 553.5,534.5 554.5,533.5 555.5,534.5 556.5,534.5 557.5,534.5 558.5,534.5 559.5,532.5 560.5,534.5 561.5,534.5 562.5,517.5 563.5,522.5 564.5,534.5 565.5,521.5 566.5,524.5 567.5,534.5 568.5,527.5 569.5,525.5 570.5,533.5 571.5,533.5 572.5,521.5 573.5,534.5 574.5,534.5 575.5,524.5 576.5,520.5 577.5,526.5 578.5,526.5 579.5,534.5 580.5,527.5 581.5,532.5 582.5,534.5 583.5,534.5 584.5,532.5 585.5,534.5 586.5,527.5 587.5,532.5 588.5,524.5 589.5,528.5 590.5,534.5 591.5,534.5 592.5,534.5 593.5,527.5 594.5,517.5 595.5,534.5 596.5,534.5 597.5,527.5 598.5,529.5 599.5,534.5 600.5,528.5 601.5,534.5 602.5,527.5 603.5,530.5 604.5,517.5 605.5,532.5 606.5,527.5 607.5,534.5 608.5,532.5 609.5,532.5 610.5,521.5 611.5,522.5 612.5,534.5 613.5,534.5 614.5,525.5 615.5,526.5 616.5,530.5 617.5,534.5 618.5,534.5 619.5,534.5 620.5,533.5 621.5,522.5 622.5,532.5 623.5,534.5 624.5,534.5 625.5,534.5 626.5,534.5 627.5,524.5 628.5,517.5 629.5,534.5 630.5,532.5 631.5,517.5 632.5,533.5 633.5,534.5 634.5,534.5 635.5,534.5 636.5,534.5 637.5,518.5 638.5,523.5 639.5,534.5 640.5,534.5 641.5,534.5 642.5,517.5 643.5,534.5 644.5,532.5 645.5,533.5 646.5,534.5 647.5,526.5 648.5,528.5 649.5,526.5 650.5,530.5 651.5,517.5 652.5,521.5 653.5,534.5 654.5,534.5 655.5,534.5 656.5,533.5 657.5,533.5 658.5,534.5 659.5,534.5 660.5,532.5 661.5,534.5 662.5,527.5 663.5,533.5 664.5,534.5 665.5,528.5 666.5,532.5 667.5,534.5 668.5,534.5 669.5,534.5 670.5,520.5 671.5,522.5 672.5,534.5 673.5,533.5 674.5,533.5 675.5,526.5 676.5,530.5 677.5,532.5 678.5,533.5 679.5,534.5 680.5,522.5 681.5,534.5 682.5,534.5 683.5,525.5 684.5,527.5 685.5,530.5 686.5,518.5 687.5,534.5 688.5,534.5 689.5,528.5 690.5,525.5 691.5,534.5 692.5,534.5 693.5,517.5 694.5,520.5 695.5,534.5 696.5,532.5 697.5,534.5 698.5,534.5 699.5,518.5 700.5,527.5 701.5,534.5 702.5,534.5 703.5,532.5 704.5,534.5 705.5,534.5 706.5,534.5 707.5,526.5 708.5,527.5 709.5,529.5 710.5,534.5 711.5,533.5 712.5,533.5 713.5,534.5 714.5,534.5 715.5,534.5 716.5,523.5 717.5,517.5 718.5,519.5 719.5,524.5 720.5,533.5 721.5,526.5 722.5,527.5 723.5,518.5 724.5,525.5 725.5,534.5 726.5,528.5 727.5,534.5 728.5,534.5 729.5,533.5 730.5,532.5 731.5,533.5 732.5,533.5 733.5,521.5 734.5,525.5 735.5,525.5 736.5,532.5 737.5,525.5 738.5,528.5 739.5,534.5 740.5,517.5 741.5,523.5 742.5,534.5 743.5,528.5 744.5,534.5 745.5,534.5 746.5,517.5 747.5,532.5 748.5,527.5 749.5,531.5 750.5,524.5 751.5,524.5 752.5,526.5 753.5,527.5 754.5,529.5 755.5,534.5 756.5,526.5 757.5,517.5 758.5,523.5 759.5,534.5 760.5,525.5 761.5,527.5 762.5,526.5 763.5,529.5 764.5,528.5 765.5,532.5 766.5,534.5 767.5,524.5 768.5,528.5 769.5,534.5 770.5,517.5 771.5,527.5 772.5,532.5 773.5,532.5 774.5,533.5 775.5,534.5 776.5,534.5 777.5,534.5 778.5,534.5 779.5,526.5 780.5,529.5 781.5,527.5 782.5,530.5 783.5,525.5 784.5,534.5 785.5,526.5 786.5,528.5 787.5,534.5 788.5,533.5 789.5,527.5 790.5,532.5 791.5,528.5 792.5,529.5 793.5,534.5 794.5,532.5 795.5,534.5 796.5,526.5 797.5,518.5 798.5,522.5 799.5,534.5 800.5,524.5 801.5,525.5 802.5,529.5 803.5,534.5 804.5,534.5 805.5,533.5 806.5,522.5 807.5,527.5 808.5,529.5 809.5,534.5 810.5,534.5 811.5,526.5 812.5,530.5 813.5,528.5 814.5,532.5 815.5,523.5 816.5,523.5 817.5,534.5 818.5,523.5 819.5,528.5 820.5,534.5 821.5,534.5 822.5,523.5 823.5,524.5 824.5,521.5 825.5,533.5 826.5,526.5 827.5,524.5 828.5,532.5 829.5,534.5 830.5,517.5 831.5,526.5 832.5,522.5 833.5,528.5 834.5,530.5 835.5,520.5 836.5,534.5 837.5,534.5 838.5,522.5 839.5,529.5 840.5,524.5 841.5,528.5 842.5,534.5 843.5,527.5 844.5,526.5 845.5,527.5 846.5,529.5 847.5,528.5 848.5,534.5 849.5,532.5 850.5,534.5 851.5,533.5 852.5,532.5 853.5,534.5 854.5,528.5 855.5,529.5 856.5,526.5 857.5,530.5 858.5,526.5 859.5,534.5 860.5,534.5 861.5,532.5 862.5,534.5 863.5,534.5 864.5,527.5 865.5,528.5 866.5,531.5 867.5,534.5 868.5,533.5 869.5,534.5 870.5,524.5 871.5,534.5 872.5,525.5 873.5,532.5 874.5,534.5 875.5,534.5 876.5,519.5 877.5,524.5 878.5,517.5 879.5,522.5 880.5,528.5 881.5,524.5 882.5,526.5 883.5,534.5 884.5,534.5 885.5,527.5 886.5,529.5 887.5,532.5 888.5,534.5 889.5,517.5 890.5,526.5 891.5,534.5 892.5,534.5 893.5,534.5 894.5,528.5 895.5,532.5 896.5,526.5 897.5,533.5 898.5,532.5 899.5,527.5 900.5,534.5 901.5,534.5 902.5,534.5 903.5,526.5 904.5,529.5 905.5,524.5 906.5,529.5 907.5,534.5 908.5,533.5 909.5,528.5 910.5,528.5 911.5,530.5 912.5,534.5 913.5,534.5 914.5,534.5 915.5,533.5 916.5,534.5 917.5,524.5 918.5,527.5 919.5,530.5 920.5,533.5 921.5,532.5 922.5,519.5 923.5,532.5 924.5,526.5 925.5,525.5 926.5,529.5 927.5,534.5 928.5,534.5 929.5,532.5 930.5,534.5 931.5,532.5 932.5,534.5 933.5,534.5 934.5,532.5 935.5,533.5 936.5,524.5 937.5,528.5 938.5,532.5 939.5,517.5 940.5,534.5 941.5,517.5 942.5,527.5 943.5,532.5 944.5,528.5 945.5,531.5 946.5,526.5 947.5,529.5 948.5,528.5 949.5,528.5 950.5,534.5 951.5,527.5 952.5,529.5 953.5,534.5 954.5,534.5 955.5,532.5 956.5,534.5 957.5,526.5 958.5,534.5 959.5,534.5 960.5,523.5 961.5,534.5 962.5,534.5 963.5,532.5 964.5,533.5 965.5,534.5 966.5,522.5 967.5,534.5 968.5,534.5 969.5,534.5 970.5,533.5 971.5,517.5 972.5,534.5 973.5,533.5 974.5,526.5 975.5,527.5 976.5,525.5 977.5,517.5 978.5,534.5 979.5,520.5 980.5,534.5 981.5,533.5 982.5,527.5 983.5,531.5 984.5,533.5 985.5,534.5 986.5,528.5 987.5,532.5 988.5,527.5 989.5,534.5 990.5,525.5 991.5,526.5 992.5,534.5 993.5,534.5 994.5,534.5 995.5,528.5 996.5,529.5 997.5,534.5 998.5,533.5 999.5,532.5 1000.5,534.5 1001.5,517.5 1002.5,522.5 1003.5,532.5 1004.5,533.5 1005.5,534.5 1006.5,534.5 1007.5,532.5 1008.5,532.5 1009.5,532.5 1010.5,521.5 1011.5,525.5 1012.5,527.5 1013.5,530.5 1014.5,534.5 1015.5,517.5 1016.5,534.5 1017.5,534.5 1018.5,528.5 1019.5,530.5 1020.5,534.5 1021.5,533.5 1022.5,528.5 1023.5,534.5 1024.5,534.5 1025.5,519.5 1026.5,523.5 1027.5,527.5 1028.5,526.5 1029.5,528.5 1030.5,534.5 1031.5,525.5 1032.5,523.5 1033.5,526.5 1034.5,527.5 1035.5,526.5 1036.5,527.5 1037.5,533.5 1038.5,523.5 1039.5,521.5 1040.5,529.5 1041.5,532.5 1042.5,534.5 1043.5,534.5 1044.5,534.5 1045.5,525.5 1046.5,534.5 1047.5,534.5 1048.5,534.5 1049.5,534.5 1050.5,532.5 1051.5,528.5 1052.5,532.5 1053.5,533.5 1054.5,534.5 1055.5,534.5 1056.5,534.5 1057.5,534.5 1058.5,517.5 1059.5,534.5 1060.5,532.5 1061.5,534.5 1062.5,534.5 1063.5,519.5 1064.5,534.5 1065.5,526.5 1066.5,534.5 1067.5,525.5 1068.5,528.5 1069.5,528.5 1070.5,521.5 1071.5,526.5 1072.5,527.5 1073.5,534.5 1074.5,518.5 1075.5,534.5 1076.5,533.5 1077.5,524.5 1078.5,534.5 1079.5,534.5 1080.5,521.5 1081.5,524.5 1082.5,534.5 1083.5,534.5 1084.5,534.5 1085.5,517.5 1086.5,534.5 1087.5,534.5 1088.5,527.5 1089.5,528.5 1090.5,525.5 1091.5,534.5 1092.5,533.5 1093.5,534.5 1094.5,534.5 1095.5,524.5 1096.5,530.5 1097.5,534.5 1098.5,534.5 1099.5,534.5 1100.5,520.5 1101.5,525.5 1102.5,534.5 1103.5,532.5 1104.5,526.5 1105.5,529.5 1106.5,522.5 1107.5,526.5 1108.5,524.5 1109.5,533.5 1110.5,534.5 1111.5,522.5 1112.5,528.5 1113.5,522.5 1114.5,524.5 1115.5,524.5 1116.5,532.5 1117.5,534.5 1118.5,524.5 1119.5,528.5 1120.5,527.5 1121.5,531.5 1122.5,526.5 1123.5,527.5 1124.5,534.5 1125.5,533.5 1126.5,526.5 1127.5,532.5 1128.5,533.5 1129.5,532.5 1130.5,534.5 1131.5,534.5 1132.5,528.5 1133.5,522.5 1134.5,534.5 1135.5,522.5 1136.5,529.5 1137.5,532.5 1138.5,532.5 1139.5,527.5 1140.5,528.5 1141.5,534.5 1142.5,526.5 1143.5,527.5 1144.5,527.5 1145.5,534.5 1146.5,523.5 1147.5,534.5 1148.5,534.5 1149.5,522.5 1150.5,526.5 1151.5,526.5 1152.5,529.5 1153.5,533.5 1154.5,534.5 1155.5,534.5 1156.5,533.5 1157.5,523.5 1158.5,525.5 1159.5,534.5 1160.5,534.5 1161.5,534.5 1162.5,532.5 1163.5,517.5 1164.5,526.5 1165.5,533.5 1166.5,534.5 1167.5,527.5 1168.5,533.5 1169.5,534.5 1170.5,534.5 1171.5,533.5 1172.5,534.5 1173.5,517.5 1174.5,534.5 1175.5,527.5 1176.5,532.5 1177.5,534.5 1178.5,527.5 1179.5,528.5 1180.5,534.5 1181.5,532.5 1182.5,533.5 1183.5,532.5 1184.5,534.5 1185.5,528.5 1186.5,526.5 1187.5,530.5 1188.5,534.5 1189.5,521.5 1190.5,526.5 1191.5,534.5 1192.5,533.5 1193.5,534.5 1194.5,532.5 1195.5,533.5 1196.5,534.5 1197.5,525.5 1198.5,533.5 1199.5,525.5 1200.5,532.5 1201.5,533.5 1202.5,534.5 1203.5,524.5 1204.5,532.5 1205.5,518.5 1206.5,523.5 1207.5,517.5 1208.5,520.5 1209.5,523.5 1210.5,529.5 1211.5,532.5 1212.5,533.5 1213.5,534.5 1214.5,534.5 1215.5,523.5 1216.5,532.5 1217.5,527.5 1218.5,529.5 1219.5,517.5 1220.5,518.5 1221.5,526.5 1222.5,527.5 1223.5,534.5 1224.5,534.5 1225.5,533.5 1226.5,533.5 1227.5,533.5 1228.5,527.5 1229.5,517.5 1230.5,525.5 1231.5,517.5 1232.5,527.5 1233.5,532.5 1234.5,534.5 1235.5,534.5 1236.5,534.5 1237.5,534.5 1238.5,526.5 1239.5,528.5 1240.5,533.5 1241.5,534.5 1242.5,534.5 1243.5,527.5 1244.5,530.5 1245.5,534.5 1246.5,523.5 1247.5,533.5 1248.5,519.5 1249.5,526.5 1250.5,526.5 1251.5,534.5 1252.5,534.5 1253.5,533.5 1254.5,527.5 1255.5,534.5 1256.5,534.5 1257.5,534.5 1258.5,534.5 1259.5,534.5 1260.5,534.5 1261.5,534.5 1262.5,532.5 1263.5,517.5 1264.5,528.5 1265.5,534.5 1266.5,527.5 1267.5,534.5 1268.5,534.5 1269.5,522.5 1270.5,527.5 1271.5,532.5 1272.5,532.5 1273.5,534.5 1274.5,534.5 1275.5,519.5 1276.5,532.5 1277.5,526.5 1278.5,530.5 1279.5,533.5 1280.5,534.5 1281.5,533.5 1282.5,528.5 1283.5,517.5 1284.5,532.5 1285.5,534.5 1286.5,532.5 1287.5,534.5 1288.5,533.5 1289.5,533.5 1290.5,534.5 1291.5,534.5 1292.5,525.5 1293.5,533.5 1294.5,534.5 1295.5,528.5 1296.5,534.5 1297.5,526.5 1298.5,534.5 1299.5,534.5 1300.5,534.5 1301.5,528.5 1302.5,530.5 1303.5,534.5 1304.5,522.5 1305.5,528.5 1306.5,533.5 1307.5,533.5 1308.5,534.5 1309.5,534.5 1310.5,517.5 1311.5,534.5 1312.5,533.5 1313.5,534.5 1314.5,532.5 1315.5,524.5 1316.5,534.5 1317.5,528.5 1318.5,533.5 1319.5,522.5 1320.5,532.5 1321.5,525.5 1322.5,528.5 1323.5,534.5 1324.5,526.5 1325.5,527.5 1326.5,530.5 1327.5,527.5 1328.5,529.5 1329.5,534.5 1330.5,518.5 1331.5,533.5 1332.5,528.5 1333.5,526.5 1334.5,534.5 1335.5,532.5 1336.5,534.5 1337.5,534.5 1338.5,532.5 1339.5,534.5 1340.5,534.5 1341.5,525.5 1342.5,521.5 1343.5,534.5 1344.5,533.5 1345.5,534.5 1346.5,532.5 1347.5,532.5 1348.5,527.5 1349.5,530.5 1350.5,524.5 1351.5,522.5 1352.5,532.5 1353.5,519.5 1354.5,534.5 1355.5,534.5 1356.5,534.5 1357.5,522.5 1358.5,524.5 1359.5,534.5 1360.5,524.5 1361.5,529.5 1362.5,534.5 1363.5,527.5 1364.5,534.5" stroke="#0080ff" stroke-width="1"/>
<path d="M102,534.5H148M206,534.5H1365" stroke="#0080ff"/>
<line x1="102" y1="535.5" x2="600" y2="535.5" stroke="#0080ff"/>
<line x1="537.5" y1="470" x2="537.5" y2="534.5" stroke="#0080ff" stroke-width="1"/>
<line x1="538.5" y1="500" x2="538.5" y2="534.5" stroke="#0080ff" stroke-width="1"/>
<line x1="794.5" y1="470" x2="794.5" y2="534.5" stroke="#0080ff" stroke-width="1"/>
<line x1="795.5" y1="498" x2="795.5" y2="534.5" stroke="#0080ff" stroke-width="1"/>
<line x1="453.5" y1="497" x2="453.5" y2="534.5" stroke="#0080ff" stroke-width="1"/>
<line x1="455.5" y1="501" x2="455.5" y2="534.5" stroke="#0080ff" stroke-width="1"/>
<line x1="457.5" y1="505" x2="457.5" y2="534.5" stroke="#0080ff" stroke-width="1"/>
<line x1="875.5" y1="508" x2="875.5" y2="534.5" stroke="#0080ff" stroke-width="1"/>
<line x1="876.5" y1="516" x2="876.5" y2="534.5" stroke="#0080ff" stroke-width="1"/>
<line x1="974.5" y1="494" x2="974.5" y2="534.5" stroke="#0080ff" stroke-width="1"/>
<line x1="975.5" y1="508" x2="975.5" y2="534.5" stroke="#0080ff" stroke-width="1"/>
<line x1="1107.5" y1="502" x2="1107.5" y2="534.5" stroke="#0080ff" stroke-width="1"/>
<line x1="1108.5" y1="512" x2="1108.5" y2="534.5" stroke="#0080ff" stroke-width="1"/>
<line x1="1219.5" y1="501" x2="1219.5" y2="534.5" stroke="#0080ff" stroke-width="1"/>
<line x1="1220.5" y1="517" x2="1220.5" y2="534.5" stroke="#0080ff" stroke-width="1"/>
<line x1="343.5" y1="506" x2="343.5" y2="534.5" stroke="#0080ff" stroke-width="1"/>
<line x1="348.5" y1="505" x2="348.5" y2="534.5" stroke="#0080ff" stroke-width="1"/>
<line x1="247.5" y1="507" x2="247.5" y2="534.5" stroke="#0080ff" stroke-width="1"/>
<line x1="1163.5" y1="515" x2="1163.5" y2="534.5" stroke="#0080ff" stroke-width="1"/>
</g>
<g shape-rendering="crispEdges" fill="#00eeee">
<rect x="141" y="481" width="13" height="13"/>
<rect x="200" y="481" width="13" height="13"/>
<rect x="249" y="481" width="25" height="13"/>
<rect x="337" y="481" width="26" height="13"/>
<rect x="426" y="481" width="26" height="13"/>
<rect x="516" y="481" width="25" height="13"/>
<rect x="605" y="481" width="25" height="13"/>
<rect x="693" y="481" width="26" height="13"/>
<rect x="783" y="481" width="25" height="13"/>
<rect x="872" y="481" width="25" height="13"/>
<rect x="960" y="481" width="26" height="13"/>
<rect x="1050" y="481" width="25" height="13"/>
<rect x="1139" y="481" width="23" height="13"/>
<rect x="1227" y="481" width="26" height="13"/>
<rect x="1316" y="481" width="26" height="13"/>
</g>
<g>
<use href="#oc" x="105.5" y="451.5"/>
<use href="#oc" x="151.5" y="452.5"/>
<use href="#oc" x="208.5" y="445.5"/>
<use href="#oc" x="255.5" y="446.5"/>
<use href="#oc" x="262.5" y="449.5"/>
<use href="#oc" x="307.5" y="457.5"/>
<use href="#oc" x="314.5" y="401.5"/>
<use href="#oc" x="360.5" y="451.5"/>
<use href="#oc" x="366.5" y="459.5"/>
<use href="#oc" x="413.5" y="454.5"/>
<use href="#oc" x="419.5" y="419.5"/>
<use href="#oc" x="466.5" y="458.5"/>
<use href="#oc" x="472.5" y="434.5"/>
<use href="#oc" x="518.5" y="453.5"/>
<use href="#oc" x="524.5" y="424.5"/>
<use href="#oc" x="571.5" y="456.5"/>
<use href="#oc" x="577.5" y="453.5"/>
<use href="#oc" x="624.5" y="455.5"/>
<use href="#oc" x="630.5" y="403.5"/>
<use href="#oc" x="676.5" y="454.5"/>
<use href="#oc" x="683.5" y="446.5"/>
<use href="#oc" x="729.5" y="452.5"/>
<use href="#oc" x="735.5" y="442.5"/>
<use href="#oc" x="782.5" y="448.5"/>
<use href="#oc" x="788.5" y="444.5"/>
<use href="#oc" x="835.5" y="449.5"/>
<use href="#oc" x="841.5" y="440.5"/>
<use href="#oc" x="887.5" y="452.5"/>
<use href="#oc" x="893.5" y="433.5"/>
<use href="#oc" x="940.5" y="452.5"/>
<use href="#oc" x="946.5" y="414.5"/>
<use href="#oc" x="993.5" y="446.5"/>
<use href="#oc" x="999.5" y="459.5"/>
<use href="#oc" x="1045.5" y="434.5"/>
<use href="#oc" x="1052.5" y="418.5"/>
<use href="#oc" x="1098.5" y="423.5"/>
<use href="#oc" x="1104.5" y="447.5"/>
<use href="#oc" x="1151.5" y="448.5"/>
<use href="#oc" x="1157.5" y="412.5"/>
<use href="#oc" x="1203.5" y="450.5"/>
<use href="#oc" x="1210.5" y="447.5"/>
<use href="#oc" x="1256.5" y="434.5"/>
<use href="#oc" x="1262.5" y="434.5"/>
<use href="#oc" x="1309.5" y="454.5"/>
<use href="#oc" x="1315.5" y="427.5"/>
<use href="#oc" x="1362.5" y="447.5"/>
</g>
<g fill="#c8c800">
<use href="#fc" x="105.5" y="530.5"/>
<use href="#fc" x="151.5" y="532.5"/>
<use href="#fc" x="208.5" y="528.5"/>
<use href="#fc" x="255.5" y="528.5"/>
<use href="#fc" x="262.5" y="528.5"/>
<use href="#fc" x="307.5" y="532.5"/>
<use href="#fc" x="314.5" y="532.5"/>
<use href="#fc" x="360.5" y="532.5"/>
<use href="#fc" x="366.5" y="532.5"/>
<use href="#fc" x="413.5" y="532.5"/>
<use href="#fc" x="419.5" y="527.5"/>
<use href="#fc" x="466.5" y="532.5"/>
<use href="#fc" x="472.5" y="510.5"/>
<use href="#fc" x="518.5" y="533.5"/>
<use href="#fc" x="525.5" y="533.5"/>
<use href="#fc" x="571.5" y="532.5"/>
<use href="#fc" x="577.5" y="511.5"/>
<use href="#fc" x="624.5" y="533.5"/>
<use href="#fc" x="631.5" y="533.5"/>
<use href="#fc" x="676.5" y="531.5"/>
<use href="#fc" x="683.5" y="532.5"/>
<use href="#fc" x="729.5" y="531.5"/>
<use href="#fc" x="735.5" y="532.5"/>
<use href="#fc" x="782.5" y="532.5"/>
<use href="#fc" x="788.5" y="517.5"/>
<use href="#fc" x="835.5" y="533.5"/>
<use href="#fc" x="841.5" y="532.5"/>
<use href="#fc" x="887.5" y="532.5"/>
<use href="#fc" x="893.5" y="532.5"/>
<use href="#fc" x="940.5" y="531.5"/>
<use href="#fc" x="946.5" y="530.5"/>
<use href="#fc" x="993.5" y="533.5"/>
<use href="#fc" x="999.5" y="492.5"/>
<use href="#fc" x="1045.5" y="533.5"/>
<use href="#fc" x="1052.5" y="533.5"/>
<use href="#fc" x="1098.5" y="533.5"/>
<use href="#fc" x="1104.5" y="531.5"/>
<use href="#fc" x="1151.5" y="533.5"/>
<use href="#fc" x="1157.5" y="528.5"/>
<use href="#fc" x="1203.5" y="531.5"/>
<use href="#fc" x="1210.5" y="309.5"/>
<use href="#fc" x="1256.5" y="532.5"/>
<use href="#fc" x="1262.5" y="525.5"/>
<use href="#fc" x="1309.5" y="532.5"/>
<use href="#fc" x="1315.5" y="526.5"/>
<use href="#fc" x="1362.5" y="516.5"/>
</g>
<path d="M293.5,456.5L301.5,468.5L285.5,468.5Z" fill="none" stroke="#4169e1" stroke-width="1" shape-rendering="crispEdges"/>
<path d="M926.5,456.5L934.5,468.5L918.5,468.5Z" fill="none" stroke="#4169e1" stroke-width="1" shape-rendering="crispEdges"/>
<text x="1275" y="76" text-anchor="end" xml:space="preserve" letter-spacing="0.03">"Ypingresult.txt" using 1:2</text>
<text x="1275" y="95" text-anchor="end" xml:space="preserve" letter-spacing="0.03">"YTimetcpping.txt" using 1:2</text>
<text x="1275" y="114" text-anchor="end" xml:space="preserve" letter-spacing="0.03">"YCustPingSiteTimes.txt" using 1:2</text>
<text x="1275" y="133" text-anchor="end" xml:space="preserve" letter-spacing="0.03">"Yofflineresult.txt" using 1:2</text>
<text x="1275" y="152" text-anchor="end" xml:space="preserve" letter-spacing="0.03">"Ytcpoff_record.txt" using 1:2</text>
<text x="1275" y="171" text-anchor="end" xml:space="preserve" letter-spacing="0.03">"Ycurltime.txt" using 1:2</text>
<text x="1275" y="190" text-anchor="end" xml:space="preserve" letter-spacing="0.03">"Ycurldnstime.txt" using 1:2</text>
<text x="1275" y="209" text-anchor="end" xml:space="preserve" letter-spacing="0.03">"YCustPingTimeout.txt" using 1:2</text>
<text x="1275" y="229" text-anchor="end" xml:space="preserve" letter-spacing="0.03">"Ypingtargetchange" using 1:2</text>
<text x="1275" y="248" text-anchor="end" xml:space="preserve" letter-spacing="0.03">"YHPpingresult.txt" using 1:2</text>
<text x="1275" y="267" text-anchor="end" xml:space="preserve" letter-spacing="0.03">"YpingtargetISrouter" using 1:2</text>
<text x="1275" y="286" text-anchor="end" xml:space="preserve" letter-spacing="0.03">"Ynoipv6" using 1:2</text>
<g shape-rendering="crispEdges">
<line x1="1288" y1="72.5" x2="1345" y2="72.5" stroke="#ff0000"/>
<line x1="1288" y1="91.5" x2="1345" y2="91.5" stroke="#00c000"/>
<line x1="1288" y1="110.5" x2="1345" y2="110.5" stroke="#0080ff"/>
</g>
<rect x="1310.5" y="123.5" width="12" height="12" fill="none" stroke="#c000ff" stroke-width="1" shape-rendering="crispEdges"/>
<rect x="1310" y="142" width="13" height="13" fill="#00eeee" shape-rendering="crispEdges"/>
<use href="#oc" x="1316.5" y="167.5"/>
<use href="#fc" x="1316.5" y="186.5"/>
<path d="M1316.5,197.5L1324.5,209.5L1308.5,209.5Z" fill="none" stroke="#4169e1" stroke-width="1" shape-rendering="crispEdges"/>
<path d="M1316.5,216.5L1324.5,228.5L1308.5,228.5Z" fill="#ffc020" stroke="#ffc020" stroke-width="1" shape-rendering="crispEdges"/>
<path d="M1310.0,243.5h13M1316.5,237.0v13" stroke="#008040" stroke-width="1" fill="none" shape-rendering="crispEdges"/>
<path d="M1316.5,270.5L1324.5,258.5L1308.5,258.5Z" fill="none" stroke="#c080ff" stroke-width="1" shape-rendering="crispEdges"/>
<path d="M1316.5,289.5L1324.5,277.5L1308.5,277.5Z" fill="none" stroke="#306080" stroke-width="1" shape-rendering="crispEdges"/>
</svg>
</body></html>
